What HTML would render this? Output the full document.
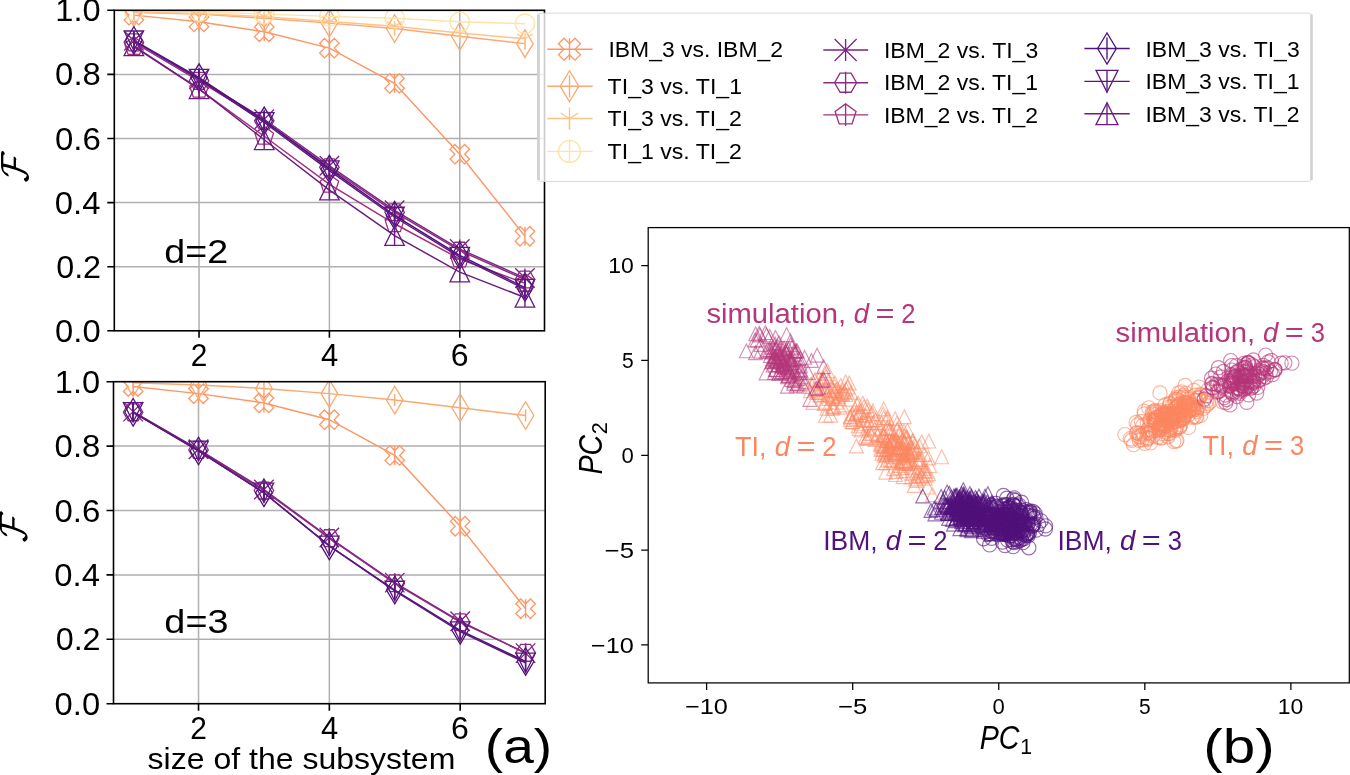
<!DOCTYPE html>
<html><head><meta charset="utf-8"><style>
html,body{margin:0;padding:0;background:#fff;width:1350px;height:775px;overflow:hidden;position:relative}
text{font-family:"Liberation Sans",sans-serif}
</style></head><body>
<svg width="1350" height="775" viewBox="0 0 1350 775" style="position:absolute;left:0;top:0;will-change:transform">
<rect width="1350" height="775" fill="#fff"/>
<g style="font-family:'Liberation Sans',sans-serif">
<path d="M199.04 10.3V330.8M329.4 10.3V330.8M459.76 10.3V330.8M114.3 266.7H544.5M114.3 202.6H544.5M114.3 138.5H544.5M114.3 74.4H544.5" stroke="#b0b0b0" stroke-width="1.5" fill="none"/>
<clipPath id="clipT"><rect x="114.3" y="10.3" width="430.2" height="320.5"/></clipPath>
<g clip-path="url(#clipT)" fill="none">
<g stroke="#fd9766">
<path d="M133.85 15.11L199.04 21.84L264.22 31.77L329.4 48.12L394.58 83.37L459.76 154.2L524.95 236.25" stroke-width="1.45"/>
<path d="M133.85 5.61v19M199.04 12.34v19M264.22 22.27v19M329.4 38.62v19M394.58 73.87v19M459.76 144.7v19M524.95 226.75v19" stroke-width="1.4"/>
<path transform="translate(133.85 15.11)" d="M-4.88 9.75L0 4.88L4.88 9.75L9.75 4.88L4.88 0L9.75 -4.88L4.88 -9.75L0 -4.88L-4.88 -9.75L-9.75 -4.88L-4.88 0L-9.75 4.88Z" stroke-width="1.3"/>
<path transform="translate(199.04 21.84)" d="M-4.88 9.75L0 4.88L4.88 9.75L9.75 4.88L4.88 0L9.75 -4.88L4.88 -9.75L0 -4.88L-4.88 -9.75L-9.75 -4.88L-4.88 0L-9.75 4.88Z" stroke-width="1.3"/>
<path transform="translate(264.22 31.77)" d="M-4.88 9.75L0 4.88L4.88 9.75L9.75 4.88L4.88 0L9.75 -4.88L4.88 -9.75L0 -4.88L-4.88 -9.75L-9.75 -4.88L-4.88 0L-9.75 4.88Z" stroke-width="1.3"/>
<path transform="translate(329.4 48.12)" d="M-4.88 9.75L0 4.88L4.88 9.75L9.75 4.88L4.88 0L9.75 -4.88L4.88 -9.75L0 -4.88L-4.88 -9.75L-9.75 -4.88L-4.88 0L-9.75 4.88Z" stroke-width="1.3"/>
<path transform="translate(394.58 83.37)" d="M-4.88 9.75L0 4.88L4.88 9.75L9.75 4.88L4.88 0L9.75 -4.88L4.88 -9.75L0 -4.88L-4.88 -9.75L-9.75 -4.88L-4.88 0L-9.75 4.88Z" stroke-width="1.3"/>
<path transform="translate(459.76 154.2)" d="M-4.88 9.75L0 4.88L4.88 9.75L9.75 4.88L4.88 0L9.75 -4.88L4.88 -9.75L0 -4.88L-4.88 -9.75L-9.75 -4.88L-4.88 0L-9.75 4.88Z" stroke-width="1.3"/>
<path transform="translate(524.95 236.25)" d="M-4.88 9.75L0 4.88L4.88 9.75L9.75 4.88L4.88 0L9.75 -4.88L4.88 -9.75L0 -4.88L-4.88 -9.75L-9.75 -4.88L-4.88 0L-9.75 4.88Z" stroke-width="1.3"/>
</g>
<g stroke="#fda870">
<path d="M133.85 12.54L199.04 14.15L264.22 18.31L329.4 23.12L394.58 28.57L459.76 36.26L524.95 43.63" stroke-width="1.45"/>
<path d="M133.85 6.54v12M199.04 8.15v12M264.22 12.31v12M329.4 17.12v12M394.58 22.57v12M459.76 30.26v12M524.95 37.63v12" stroke-width="1.4"/>
<path transform="translate(133.85 12.54)" d="M-0 13.79L8.27 0L0 -13.79L-8.27 -0Z" stroke-width="1.3"/>
<path transform="translate(199.04 14.15)" d="M-0 13.79L8.27 0L0 -13.79L-8.27 -0Z" stroke-width="1.3"/>
<path transform="translate(264.22 18.31)" d="M-0 13.79L8.27 0L0 -13.79L-8.27 -0Z" stroke-width="1.3"/>
<path transform="translate(329.4 23.12)" d="M-0 13.79L8.27 0L0 -13.79L-8.27 -0Z" stroke-width="1.3"/>
<path transform="translate(394.58 28.57)" d="M-0 13.79L8.27 0L0 -13.79L-8.27 -0Z" stroke-width="1.3"/>
<path transform="translate(459.76 36.26)" d="M-0 13.79L8.27 0L0 -13.79L-8.27 -0Z" stroke-width="1.3"/>
<path transform="translate(524.95 43.63)" d="M-0 13.79L8.27 0L0 -13.79L-8.27 -0Z" stroke-width="1.3"/>
</g>
<g stroke="#fec389">
<path d="M133.85 11.9L199.04 13.5L264.22 16.71L329.4 21.52L394.58 26.33L459.76 33.06L524.95 38.82" stroke-width="1.45"/>
<path d="M133.85 6.9v10M199.04 8.5v10M264.22 11.71v10M329.4 16.52v10M394.58 21.33v10M459.76 28.06v10M524.95 33.82v10" stroke-width="1.4"/>
<path transform="translate(133.85 11.9)" d="M0 0L0 9.75M0 0L7.8 -4.88M0 0L-7.8 -4.88" stroke-width="1.3"/>
<path transform="translate(199.04 13.5)" d="M0 0L0 9.75M0 0L7.8 -4.88M0 0L-7.8 -4.88" stroke-width="1.3"/>
<path transform="translate(264.22 16.71)" d="M0 0L0 9.75M0 0L7.8 -4.88M0 0L-7.8 -4.88" stroke-width="1.3"/>
<path transform="translate(329.4 21.52)" d="M0 0L0 9.75M0 0L7.8 -4.88M0 0L-7.8 -4.88" stroke-width="1.3"/>
<path transform="translate(394.58 26.33)" d="M0 0L0 9.75M0 0L7.8 -4.88M0 0L-7.8 -4.88" stroke-width="1.3"/>
<path transform="translate(459.76 33.06)" d="M0 0L0 9.75M0 0L7.8 -4.88M0 0L-7.8 -4.88" stroke-width="1.3"/>
<path transform="translate(524.95 38.82)" d="M0 0L0 9.75M0 0L7.8 -4.88M0 0L-7.8 -4.88" stroke-width="1.3"/>
</g>
<g stroke="#fee3a5">
<path d="M133.85 10.3L199.04 11.58L264.22 14.15L329.4 16.39L394.58 18.31L459.76 21.84L524.95 23.76" stroke-width="1.45"/>
<path transform="translate(133.85 10.3)" d="M0 9.75C2.59 9.75 5.07 8.72 6.89 6.89C8.72 5.07 9.75 2.59 9.75 0C9.75 -2.59 8.72 -5.07 6.89 -6.89C5.07 -8.72 2.59 -9.75 0 -9.75C-2.59 -9.75 -5.07 -8.72 -6.89 -6.89C-8.72 -5.07 -9.75 -2.59 -9.75 0C-9.75 2.59 -8.72 5.07 -6.89 6.89C-5.07 8.72 -2.59 9.75 0 9.75Z" stroke-width="1.3"/>
<path transform="translate(199.04 11.58)" d="M0 9.75C2.59 9.75 5.07 8.72 6.89 6.89C8.72 5.07 9.75 2.59 9.75 0C9.75 -2.59 8.72 -5.07 6.89 -6.89C5.07 -8.72 2.59 -9.75 0 -9.75C-2.59 -9.75 -5.07 -8.72 -6.89 -6.89C-8.72 -5.07 -9.75 -2.59 -9.75 0C-9.75 2.59 -8.72 5.07 -6.89 6.89C-5.07 8.72 -2.59 9.75 0 9.75Z" stroke-width="1.3"/>
<path transform="translate(264.22 14.15)" d="M0 9.75C2.59 9.75 5.07 8.72 6.89 6.89C8.72 5.07 9.75 2.59 9.75 0C9.75 -2.59 8.72 -5.07 6.89 -6.89C5.07 -8.72 2.59 -9.75 0 -9.75C-2.59 -9.75 -5.07 -8.72 -6.89 -6.89C-8.72 -5.07 -9.75 -2.59 -9.75 0C-9.75 2.59 -8.72 5.07 -6.89 6.89C-5.07 8.72 -2.59 9.75 0 9.75Z" stroke-width="1.3"/>
<path transform="translate(329.4 16.39)" d="M0 9.75C2.59 9.75 5.07 8.72 6.89 6.89C8.72 5.07 9.75 2.59 9.75 0C9.75 -2.59 8.72 -5.07 6.89 -6.89C5.07 -8.72 2.59 -9.75 0 -9.75C-2.59 -9.75 -5.07 -8.72 -6.89 -6.89C-8.72 -5.07 -9.75 -2.59 -9.75 0C-9.75 2.59 -8.72 5.07 -6.89 6.89C-5.07 8.72 -2.59 9.75 0 9.75Z" stroke-width="1.3"/>
<path transform="translate(394.58 18.31)" d="M0 9.75C2.59 9.75 5.07 8.72 6.89 6.89C8.72 5.07 9.75 2.59 9.75 0C9.75 -2.59 8.72 -5.07 6.89 -6.89C5.07 -8.72 2.59 -9.75 0 -9.75C-2.59 -9.75 -5.07 -8.72 -6.89 -6.89C-8.72 -5.07 -9.75 -2.59 -9.75 0C-9.75 2.59 -8.72 5.07 -6.89 6.89C-5.07 8.72 -2.59 9.75 0 9.75Z" stroke-width="1.3"/>
<path transform="translate(459.76 21.84)" d="M0 9.75C2.59 9.75 5.07 8.72 6.89 6.89C8.72 5.07 9.75 2.59 9.75 0C9.75 -2.59 8.72 -5.07 6.89 -6.89C5.07 -8.72 2.59 -9.75 0 -9.75C-2.59 -9.75 -5.07 -8.72 -6.89 -6.89C-8.72 -5.07 -9.75 -2.59 -9.75 0C-9.75 2.59 -8.72 5.07 -6.89 6.89C-5.07 8.72 -2.59 9.75 0 9.75Z" stroke-width="1.3"/>
<path transform="translate(524.95 23.76)" d="M0 9.75C2.59 9.75 5.07 8.72 6.89 6.89C8.72 5.07 9.75 2.59 9.75 0C9.75 -2.59 8.72 -5.07 6.89 -6.89C5.07 -8.72 2.59 -9.75 0 -9.75C-2.59 -9.75 -5.07 -8.72 -6.89 -6.89C-8.72 -5.07 -9.75 -2.59 -9.75 0C-9.75 2.59 -8.72 5.07 -6.89 6.89C-5.07 8.72 -2.59 9.75 0 9.75Z" stroke-width="1.3"/>
</g>
<g stroke="#7b2382">
<path d="M133.85 40.75L199.04 79.21L264.22 119.27L329.4 165.74L394.58 210.29L459.76 249.07L524.95 277.92" stroke-width="1.45"/>
<path d="M133.85 31.25v19M199.04 69.71v19M264.22 109.77v19M329.4 156.24v19M394.58 200.79v19M459.76 239.57v19M524.95 268.42v19" stroke-width="1.4"/>
<path transform="translate(133.85 40.75)" d="M-9.75 9.75L9.75 -9.75M-9.75 -9.75L9.75 9.75" stroke-width="1.3"/>
<path transform="translate(199.04 79.21)" d="M-9.75 9.75L9.75 -9.75M-9.75 -9.75L9.75 9.75" stroke-width="1.3"/>
<path transform="translate(264.22 119.27)" d="M-9.75 9.75L9.75 -9.75M-9.75 -9.75L9.75 9.75" stroke-width="1.3"/>
<path transform="translate(329.4 165.74)" d="M-9.75 9.75L9.75 -9.75M-9.75 -9.75L9.75 9.75" stroke-width="1.3"/>
<path transform="translate(394.58 210.29)" d="M-9.75 9.75L9.75 -9.75M-9.75 -9.75L9.75 9.75" stroke-width="1.3"/>
<path transform="translate(459.76 249.07)" d="M-9.75 9.75L9.75 -9.75M-9.75 -9.75L9.75 9.75" stroke-width="1.3"/>
<path transform="translate(524.95 277.92)" d="M-9.75 9.75L9.75 -9.75M-9.75 -9.75L9.75 9.75" stroke-width="1.3"/>
</g>
<g stroke="#8e2a81">
<path d="M133.85 42.35L199.04 80.81L264.22 120.87L329.4 167.34L394.58 212.22L459.76 250.68L524.95 279.52" stroke-width="1.45"/>
<path d="M133.85 32.85v19M199.04 71.31v19M264.22 111.37v19M329.4 157.84v19M394.58 202.72v19M459.76 241.18v19M524.95 270.02v19" stroke-width="1.4"/>
<path transform="translate(133.85 42.35)" d="M-4.87 -8.44L-9.75 -0L-4.88 8.44L4.87 8.44L9.75 0L4.88 -8.44Z" stroke-width="1.3"/>
<path transform="translate(199.04 80.81)" d="M-4.87 -8.44L-9.75 -0L-4.88 8.44L4.87 8.44L9.75 0L4.88 -8.44Z" stroke-width="1.3"/>
<path transform="translate(264.22 120.87)" d="M-4.87 -8.44L-9.75 -0L-4.88 8.44L4.87 8.44L9.75 0L4.88 -8.44Z" stroke-width="1.3"/>
<path transform="translate(329.4 167.34)" d="M-4.87 -8.44L-9.75 -0L-4.88 8.44L4.87 8.44L9.75 0L4.88 -8.44Z" stroke-width="1.3"/>
<path transform="translate(394.58 212.22)" d="M-4.87 -8.44L-9.75 -0L-4.88 8.44L4.87 8.44L9.75 0L4.88 -8.44Z" stroke-width="1.3"/>
<path transform="translate(459.76 250.68)" d="M-4.87 -8.44L-9.75 -0L-4.88 8.44L4.87 8.44L9.75 0L4.88 -8.44Z" stroke-width="1.3"/>
<path transform="translate(524.95 279.52)" d="M-4.87 -8.44L-9.75 -0L-4.88 8.44L4.87 8.44L9.75 0L4.88 -8.44Z" stroke-width="1.3"/>
</g>
<g stroke="#a3307e">
<path d="M133.85 46.52L199.04 89.14L264.22 136.26L329.4 184.33L394.58 223.75L459.76 259.01L524.95 283.37" stroke-width="1.45"/>
<path d="M133.85 37.02v19M199.04 79.64v19M264.22 126.76v19M329.4 174.83v19M394.58 214.25v19M459.76 249.51v19M524.95 273.87v19" stroke-width="1.4"/>
<path transform="translate(133.85 46.52)" d="M0 -9.75L-9.27 -3.01L-5.73 7.89L5.73 7.89L9.27 -3.01Z" stroke-width="1.3"/>
<path transform="translate(199.04 89.14)" d="M0 -9.75L-9.27 -3.01L-5.73 7.89L5.73 7.89L9.27 -3.01Z" stroke-width="1.3"/>
<path transform="translate(264.22 136.26)" d="M0 -9.75L-9.27 -3.01L-5.73 7.89L5.73 7.89L9.27 -3.01Z" stroke-width="1.3"/>
<path transform="translate(329.4 184.33)" d="M0 -9.75L-9.27 -3.01L-5.73 7.89L5.73 7.89L9.27 -3.01Z" stroke-width="1.3"/>
<path transform="translate(394.58 223.75)" d="M0 -9.75L-9.27 -3.01L-5.73 7.89L5.73 7.89L9.27 -3.01Z" stroke-width="1.3"/>
<path transform="translate(459.76 259.01)" d="M0 -9.75L-9.27 -3.01L-5.73 7.89L5.73 7.89L9.27 -3.01Z" stroke-width="1.3"/>
<path transform="translate(524.95 283.37)" d="M0 -9.75L-9.27 -3.01L-5.73 7.89L5.73 7.89L9.27 -3.01Z" stroke-width="1.3"/>
</g>
<g stroke="#4f127b">
<path d="M133.85 40.43L199.04 77.6L264.22 120.87L329.4 168.95L394.58 215.42L459.76 255.48L524.95 287.53" stroke-width="1.45"/>
<path d="M133.85 30.93v19M199.04 68.1v19M264.22 111.37v19M329.4 159.45v19M394.58 205.92v19M459.76 245.98v19M524.95 278.03v19" stroke-width="1.4"/>
<path transform="translate(133.85 40.43)" d="M-0 13.79L8.27 0L0 -13.79L-8.27 -0Z" stroke-width="1.3"/>
<path transform="translate(199.04 77.6)" d="M-0 13.79L8.27 0L0 -13.79L-8.27 -0Z" stroke-width="1.3"/>
<path transform="translate(264.22 120.87)" d="M-0 13.79L8.27 0L0 -13.79L-8.27 -0Z" stroke-width="1.3"/>
<path transform="translate(329.4 168.95)" d="M-0 13.79L8.27 0L0 -13.79L-8.27 -0Z" stroke-width="1.3"/>
<path transform="translate(394.58 215.42)" d="M-0 13.79L8.27 0L0 -13.79L-8.27 -0Z" stroke-width="1.3"/>
<path transform="translate(459.76 255.48)" d="M-0 13.79L8.27 0L0 -13.79L-8.27 -0Z" stroke-width="1.3"/>
<path transform="translate(524.95 287.53)" d="M-0 13.79L8.27 0L0 -13.79L-8.27 -0Z" stroke-width="1.3"/>
</g>
<g stroke="#5c167f">
<path d="M133.85 40.75L199.04 79.21L264.22 122.47L329.4 170.55L394.58 217.02L459.76 257.09L524.95 289.13" stroke-width="1.45"/>
<path d="M133.85 31.25v19M199.04 69.71v19M264.22 112.97v19M329.4 161.05v19M394.58 207.52v19M459.76 247.59v19M524.95 279.63v19" stroke-width="1.4"/>
<path transform="translate(133.85 40.75)" d="M-0 9.75L9.75 -9.75L-9.75 -9.75Z" stroke-width="1.3"/>
<path transform="translate(199.04 79.21)" d="M-0 9.75L9.75 -9.75L-9.75 -9.75Z" stroke-width="1.3"/>
<path transform="translate(264.22 122.47)" d="M-0 9.75L9.75 -9.75L-9.75 -9.75Z" stroke-width="1.3"/>
<path transform="translate(329.4 170.55)" d="M-0 9.75L9.75 -9.75L-9.75 -9.75Z" stroke-width="1.3"/>
<path transform="translate(394.58 217.02)" d="M-0 9.75L9.75 -9.75L-9.75 -9.75Z" stroke-width="1.3"/>
<path transform="translate(459.76 257.09)" d="M-0 9.75L9.75 -9.75L-9.75 -9.75Z" stroke-width="1.3"/>
<path transform="translate(524.95 289.13)" d="M-0 9.75L9.75 -9.75L-9.75 -9.75Z" stroke-width="1.3"/>
</g>
<g stroke="#6a1c81">
<path d="M133.85 45.88L199.04 88.82L264.22 139.78L329.4 190.1L394.58 235.61L459.76 272.15L524.95 297.47" stroke-width="1.45"/>
<path d="M133.85 36.38v19M199.04 79.32v19M264.22 130.28v19M329.4 180.6v19M394.58 226.11v19M459.76 262.65v19M524.95 287.97v19" stroke-width="1.4"/>
<path transform="translate(133.85 45.88)" d="M0 -9.75L-9.75 9.75L9.75 9.75Z" stroke-width="1.3"/>
<path transform="translate(199.04 88.82)" d="M0 -9.75L-9.75 9.75L9.75 9.75Z" stroke-width="1.3"/>
<path transform="translate(264.22 139.78)" d="M0 -9.75L-9.75 9.75L9.75 9.75Z" stroke-width="1.3"/>
<path transform="translate(329.4 190.1)" d="M0 -9.75L-9.75 9.75L9.75 9.75Z" stroke-width="1.3"/>
<path transform="translate(394.58 235.61)" d="M0 -9.75L-9.75 9.75L9.75 9.75Z" stroke-width="1.3"/>
<path transform="translate(459.76 272.15)" d="M0 -9.75L-9.75 9.75L9.75 9.75Z" stroke-width="1.3"/>
<path transform="translate(524.95 297.47)" d="M0 -9.75L-9.75 9.75L9.75 9.75Z" stroke-width="1.3"/>
</g>
</g>
<rect x="114.3" y="10.3" width="430.2" height="320.5" fill="none" stroke="#000" stroke-width="1.6"/>
<path d="M114.3 330.8h-7M114.3 266.7h-7M114.3 202.6h-7M114.3 138.5h-7M114.3 74.4h-7M114.3 10.3h-7M199.04 330.8v7M329.4 330.8v7M459.76 330.8v7" stroke="#000" stroke-width="1.6"/>
<text x="55.12" y="341.8" style="font-size:31.26px;fill:#000" textLength="45.53" lengthAdjust="spacingAndGlyphs">0.0</text>
<text x="56.17" y="277.7" style="font-size:31.26px;fill:#000" textLength="44.95" lengthAdjust="spacingAndGlyphs">0.2</text>
<text x="54.82" y="213.6" style="font-size:31.26px;fill:#000" textLength="45.67" lengthAdjust="spacingAndGlyphs">0.4</text>
<text x="54.96" y="149.5" style="font-size:31.26px;fill:#000" textLength="45.86" lengthAdjust="spacingAndGlyphs">0.6</text>
<text x="55.11" y="85.4" style="font-size:31.26px;fill:#000" textLength="45.71" lengthAdjust="spacingAndGlyphs">0.8</text>
<text x="55.31" y="21.3" style="font-size:31.26px;fill:#000" textLength="45.33" lengthAdjust="spacingAndGlyphs">1.0</text>
<text x="190.76" y="366.31" style="font-size:31.26px;fill:#000" textLength="16.59" lengthAdjust="spacingAndGlyphs">2</text>
<text x="320.96" y="366.31" style="font-size:31.26px;fill:#000" textLength="17.22" lengthAdjust="spacingAndGlyphs">4</text>
<text x="450.71" y="366.31" style="font-size:31.26px;fill:#000" textLength="17.82" lengthAdjust="spacingAndGlyphs">6</text>
<path d="M198.53 381.7V703.7M329.35 381.7V703.7M460.17 381.7V703.7M113.5 639.3H545.2M113.5 574.9H545.2M113.5 510.5H545.2M113.5 446.1H545.2" stroke="#b0b0b0" stroke-width="1.5" fill="none"/>
<clipPath id="clipB"><rect x="113.5" y="381.7" width="431.7" height="322"/></clipPath>
<g clip-path="url(#clipB)" fill="none">
<g stroke="#fd9766">
<path d="M133.12 386.53L198.53 393.61L263.94 402.95L329.35 419.7L394.76 455.44L460.17 526.28L525.58 608.71" stroke-width="1.45"/>
<path d="M133.12 377.03v19M198.53 384.11v19M263.94 393.45v19M329.35 410.2v19M394.76 445.94v19M460.17 516.78v19M525.58 599.21v19" stroke-width="1.4"/>
<path transform="translate(133.12 386.53)" d="M-4.88 9.75L0 4.88L4.88 9.75L9.75 4.88L4.88 0L9.75 -4.88L4.88 -9.75L0 -4.88L-4.88 -9.75L-9.75 -4.88L-4.88 0L-9.75 4.88Z" stroke-width="1.3"/>
<path transform="translate(198.53 393.61)" d="M-4.88 9.75L0 4.88L4.88 9.75L9.75 4.88L4.88 0L9.75 -4.88L4.88 -9.75L0 -4.88L-4.88 -9.75L-9.75 -4.88L-4.88 0L-9.75 4.88Z" stroke-width="1.3"/>
<path transform="translate(263.94 402.95)" d="M-4.88 9.75L0 4.88L4.88 9.75L9.75 4.88L4.88 0L9.75 -4.88L4.88 -9.75L0 -4.88L-4.88 -9.75L-9.75 -4.88L-4.88 0L-9.75 4.88Z" stroke-width="1.3"/>
<path transform="translate(329.35 419.7)" d="M-4.88 9.75L0 4.88L4.88 9.75L9.75 4.88L4.88 0L9.75 -4.88L4.88 -9.75L0 -4.88L-4.88 -9.75L-9.75 -4.88L-4.88 0L-9.75 4.88Z" stroke-width="1.3"/>
<path transform="translate(394.76 455.44)" d="M-4.88 9.75L0 4.88L4.88 9.75L9.75 4.88L4.88 0L9.75 -4.88L4.88 -9.75L0 -4.88L-4.88 -9.75L-9.75 -4.88L-4.88 0L-9.75 4.88Z" stroke-width="1.3"/>
<path transform="translate(460.17 526.28)" d="M-4.88 9.75L0 4.88L4.88 9.75L9.75 4.88L4.88 0L9.75 -4.88L4.88 -9.75L0 -4.88L-4.88 -9.75L-9.75 -4.88L-4.88 0L-9.75 4.88Z" stroke-width="1.3"/>
<path transform="translate(525.58 608.71)" d="M-4.88 9.75L0 4.88L4.88 9.75L9.75 4.88L4.88 0L9.75 -4.88L4.88 -9.75L0 -4.88L-4.88 -9.75L-9.75 -4.88L-4.88 0L-9.75 4.88Z" stroke-width="1.3"/>
</g>
<g stroke="#fda870">
<path d="M133.12 382.67L198.53 384.92L263.94 388.46L329.35 393.61L394.76 400.05L460.17 407.78L525.58 415.51" stroke-width="1.45"/>
<path d="M133.12 376.67v12M198.53 378.92v12M263.94 382.46v12M329.35 387.61v12M394.76 394.05v12M460.17 401.78v12M525.58 409.51v12" stroke-width="1.4"/>
<path transform="translate(133.12 382.67)" d="M-0 13.79L8.27 0L0 -13.79L-8.27 -0Z" stroke-width="1.3"/>
<path transform="translate(198.53 384.92)" d="M-0 13.79L8.27 0L0 -13.79L-8.27 -0Z" stroke-width="1.3"/>
<path transform="translate(263.94 388.46)" d="M-0 13.79L8.27 0L0 -13.79L-8.27 -0Z" stroke-width="1.3"/>
<path transform="translate(329.35 393.61)" d="M-0 13.79L8.27 0L0 -13.79L-8.27 -0Z" stroke-width="1.3"/>
<path transform="translate(394.76 400.05)" d="M-0 13.79L8.27 0L0 -13.79L-8.27 -0Z" stroke-width="1.3"/>
<path transform="translate(460.17 407.78)" d="M-0 13.79L8.27 0L0 -13.79L-8.27 -0Z" stroke-width="1.3"/>
<path transform="translate(525.58 415.51)" d="M-0 13.79L8.27 0L0 -13.79L-8.27 -0Z" stroke-width="1.3"/>
</g>
<g stroke="#7b2382">
<path d="M133.12 411.65L198.53 449.32L263.94 489.57L329.35 537.55L394.76 582.63L460.17 621.27L525.58 653.15" stroke-width="1.45"/>
<path d="M133.12 402.15v19M198.53 439.82v19M263.94 480.07v19M329.35 528.05v19M394.76 573.13v19M460.17 611.77v19M525.58 643.65v19" stroke-width="1.4"/>
<path transform="translate(133.12 411.65)" d="M-9.75 9.75L9.75 -9.75M-9.75 -9.75L9.75 9.75" stroke-width="1.3"/>
<path transform="translate(198.53 449.32)" d="M-9.75 9.75L9.75 -9.75M-9.75 -9.75L9.75 9.75" stroke-width="1.3"/>
<path transform="translate(263.94 489.57)" d="M-9.75 9.75L9.75 -9.75M-9.75 -9.75L9.75 9.75" stroke-width="1.3"/>
<path transform="translate(329.35 537.55)" d="M-9.75 9.75L9.75 -9.75M-9.75 -9.75L9.75 9.75" stroke-width="1.3"/>
<path transform="translate(394.76 582.63)" d="M-9.75 9.75L9.75 -9.75M-9.75 -9.75L9.75 9.75" stroke-width="1.3"/>
<path transform="translate(460.17 621.27)" d="M-9.75 9.75L9.75 -9.75M-9.75 -9.75L9.75 9.75" stroke-width="1.3"/>
<path transform="translate(525.58 653.15)" d="M-9.75 9.75L9.75 -9.75M-9.75 -9.75L9.75 9.75" stroke-width="1.3"/>
</g>
<g stroke="#8e2a81">
<path d="M133.12 412.29L198.53 449.96L263.94 490.54L329.35 538.19L394.76 583.27L460.17 622.23L525.58 652.82" stroke-width="1.45"/>
<path d="M133.12 402.79v19M198.53 440.46v19M263.94 481.04v19M329.35 528.69v19M394.76 573.77v19M460.17 612.73v19M525.58 643.32v19" stroke-width="1.4"/>
<path transform="translate(133.12 412.29)" d="M-4.87 -8.44L-9.75 -0L-4.88 8.44L4.87 8.44L9.75 0L4.88 -8.44Z" stroke-width="1.3"/>
<path transform="translate(198.53 449.96)" d="M-4.87 -8.44L-9.75 -0L-4.88 8.44L4.87 8.44L9.75 0L4.88 -8.44Z" stroke-width="1.3"/>
<path transform="translate(263.94 490.54)" d="M-4.87 -8.44L-9.75 -0L-4.88 8.44L4.87 8.44L9.75 0L4.88 -8.44Z" stroke-width="1.3"/>
<path transform="translate(329.35 538.19)" d="M-4.87 -8.44L-9.75 -0L-4.88 8.44L4.87 8.44L9.75 0L4.88 -8.44Z" stroke-width="1.3"/>
<path transform="translate(394.76 583.27)" d="M-4.87 -8.44L-9.75 -0L-4.88 8.44L4.87 8.44L9.75 0L4.88 -8.44Z" stroke-width="1.3"/>
<path transform="translate(460.17 622.23)" d="M-4.87 -8.44L-9.75 -0L-4.88 8.44L4.87 8.44L9.75 0L4.88 -8.44Z" stroke-width="1.3"/>
<path transform="translate(525.58 652.82)" d="M-4.87 -8.44L-9.75 -0L-4.88 8.44L4.87 8.44L9.75 0L4.88 -8.44Z" stroke-width="1.3"/>
</g>
<g stroke="#4f127b">
<path d="M133.12 412.29L198.53 450.93L263.94 492.79L329.35 545.92L394.76 590.03L460.17 630.28L525.58 661.52" stroke-width="1.45"/>
<path d="M133.12 402.79v19M198.53 441.43v19M263.94 483.29v19M329.35 536.42v19M394.76 580.53v19M460.17 620.78v19M525.58 652.02v19" stroke-width="1.4"/>
<path transform="translate(133.12 412.29)" d="M-0 13.79L8.27 0L0 -13.79L-8.27 -0Z" stroke-width="1.3"/>
<path transform="translate(198.53 450.93)" d="M-0 13.79L8.27 0L0 -13.79L-8.27 -0Z" stroke-width="1.3"/>
<path transform="translate(263.94 492.79)" d="M-0 13.79L8.27 0L0 -13.79L-8.27 -0Z" stroke-width="1.3"/>
<path transform="translate(329.35 545.92)" d="M-0 13.79L8.27 0L0 -13.79L-8.27 -0Z" stroke-width="1.3"/>
<path transform="translate(394.76 590.03)" d="M-0 13.79L8.27 0L0 -13.79L-8.27 -0Z" stroke-width="1.3"/>
<path transform="translate(460.17 630.28)" d="M-0 13.79L8.27 0L0 -13.79L-8.27 -0Z" stroke-width="1.3"/>
<path transform="translate(525.58 661.52)" d="M-0 13.79L8.27 0L0 -13.79L-8.27 -0Z" stroke-width="1.3"/>
</g>
<g stroke="#5c167f">
<path d="M133.12 412.29L198.53 450.93L263.94 492.79L329.35 545.92L394.76 591L460.17 631.57L525.58 662.81" stroke-width="1.45"/>
<path d="M133.12 402.79v19M198.53 441.43v19M263.94 483.29v19M329.35 536.42v19M394.76 581.5v19M460.17 622.07v19M525.58 653.31v19" stroke-width="1.4"/>
<path transform="translate(133.12 412.29)" d="M-0 9.75L9.75 -9.75L-9.75 -9.75Z" stroke-width="1.3"/>
<path transform="translate(198.53 450.93)" d="M-0 9.75L9.75 -9.75L-9.75 -9.75Z" stroke-width="1.3"/>
<path transform="translate(263.94 492.79)" d="M-0 9.75L9.75 -9.75L-9.75 -9.75Z" stroke-width="1.3"/>
<path transform="translate(329.35 545.92)" d="M-0 9.75L9.75 -9.75L-9.75 -9.75Z" stroke-width="1.3"/>
<path transform="translate(394.76 591)" d="M-0 9.75L9.75 -9.75L-9.75 -9.75Z" stroke-width="1.3"/>
<path transform="translate(460.17 631.57)" d="M-0 9.75L9.75 -9.75L-9.75 -9.75Z" stroke-width="1.3"/>
<path transform="translate(525.58 662.81)" d="M-0 9.75L9.75 -9.75L-9.75 -9.75Z" stroke-width="1.3"/>
</g>
</g>
<rect x="113.5" y="381.7" width="431.7" height="322" fill="none" stroke="#000" stroke-width="1.6"/>
<path d="M113.5 703.7h-7M113.5 639.3h-7M113.5 574.9h-7M113.5 510.5h-7M113.5 446.1h-7M113.5 381.7h-7M198.53 703.7v7M329.35 703.7v7M460.17 703.7v7" stroke="#000" stroke-width="1.6"/>
<text x="54.62" y="714.7" style="font-size:31.26px;fill:#000" textLength="45.53" lengthAdjust="spacingAndGlyphs">0.0</text>
<text x="55.67" y="650.3" style="font-size:31.26px;fill:#000" textLength="44.95" lengthAdjust="spacingAndGlyphs">0.2</text>
<text x="54.32" y="585.9" style="font-size:31.26px;fill:#000" textLength="45.67" lengthAdjust="spacingAndGlyphs">0.4</text>
<text x="54.46" y="521.5" style="font-size:31.26px;fill:#000" textLength="45.86" lengthAdjust="spacingAndGlyphs">0.6</text>
<text x="54.61" y="457.1" style="font-size:31.26px;fill:#000" textLength="45.71" lengthAdjust="spacingAndGlyphs">0.8</text>
<text x="54.81" y="392.7" style="font-size:31.26px;fill:#000" textLength="45.33" lengthAdjust="spacingAndGlyphs">1.0</text>
<text x="190.26" y="739.21" style="font-size:31.26px;fill:#000" textLength="16.59" lengthAdjust="spacingAndGlyphs">2</text>
<text x="320.91" y="739.21" style="font-size:31.26px;fill:#000" textLength="17.22" lengthAdjust="spacingAndGlyphs">4</text>
<text x="451.12" y="739.21" style="font-size:31.26px;fill:#000" textLength="17.82" lengthAdjust="spacingAndGlyphs">6</text>
<text x="164.39" y="263" style="font-size:32.74px;fill:#000" textLength="63.85" lengthAdjust="spacingAndGlyphs">d=2</text>
<text x="164.39" y="632.6" style="font-size:32.74px;fill:#000" textLength="64.1" lengthAdjust="spacingAndGlyphs">d=3</text>
<text x="147.64" y="769.3" style="font-size:29.99px;fill:#000" textLength="307.7" lengthAdjust="spacingAndGlyphs">size of the subsystem</text>
<text x="484.89" y="763" style="font-size:47.3px;fill:#000" textLength="67.34" lengthAdjust="spacingAndGlyphs">(a)</text>
<path d="M25.94 181.85Q25.26 181.85 24.6 180.78Q23.94 179.7 23.86 178.97L23.86 178.74Q23.94 178.61 24.77 178.11Q25.6 177.62 26.14 176.91Q26.69 176.19 26.69 174.9Q26.34 174.63 26.02 174.45Q20.83 171.72 15.43 169.81Q12.49 168.77 9.35 167.94Q6.21 167.12 3.31 166.66L3.31 168.25Q3.31 172.03 6.95 173.04Q7.64 173.41 8.16 174.25Q8.67 175.1 8.75 175.89L8.75 176.12Q8.58 176.38 8.35 176.38Q6.27 175.8 4.59 174.11Q2.91 172.41 1.96 170.16Q1 167.92 1 165.82L1 154.69Q1 151 2.49 151Q3.35 151 4.05 152Q4.74 153 4.84 153.97L4.84 154.15Q4.68 154.43 4.61 154.43Q4.49 154.41 4.36 154.4Q4.22 154.37 4.17 154.37Q3.31 154.37 3.31 157.53L3.31 163.54Q8.79 164.61 13.64 166.32L13.64 156.73Q13.77 156.47 13.98 156.47Q14.91 156.71 15.57 157.6Q16.23 158.49 16.32 159.48L16.32 159.7Q16.17 159.98 16.02 159.98L15.94 159.98L15.94 167.16Q20.33 168.83 24.68 171.11Q26.42 172.06 27.71 173.8Q29 175.54 29 177.29L29 177.49Q29 178.97 28.19 180.16Q27.38 181.35 25.94 181.85Z" fill="#000"/>
<path d="M24.53 541.76Q23.84 541.76 23.18 540.69Q22.52 539.62 22.45 538.91L22.45 538.67Q22.52 538.54 23.35 538.05Q24.19 537.57 24.73 536.86Q25.28 536.15 25.28 534.87Q24.93 534.61 24.61 534.43Q19.4 531.72 13.98 529.83Q11.03 528.8 7.88 527.98Q4.73 527.16 1.82 526.71L1.82 528.29Q1.82 532.03 5.48 533.03Q6.17 533.4 6.68 534.23Q7.2 535.07 7.28 535.86L7.28 536.08Q7.11 536.34 6.87 536.34Q4.79 535.77 3.1 534.09Q1.42 532.4 0.46 530.18Q-0.5 527.96 -0.5 525.88L-0.5 514.86Q-0.5 511.2 1 511.2Q1.85 511.2 2.56 512.19Q3.26 513.18 3.35 514.14L3.35 514.32Q3.2 514.6 3.12 514.6Q3.01 514.58 2.87 514.56Q2.74 514.54 2.68 514.54Q1.82 514.54 1.82 517.67L1.82 523.62Q7.31 524.68 12.18 526.38L12.18 516.87Q12.32 516.62 12.52 516.62Q13.46 516.86 14.12 517.74Q14.78 518.62 14.88 519.6L14.88 519.81Q14.72 520.09 14.57 520.09L14.5 520.09L14.5 527.21Q18.9 528.86 23.27 531.12Q25.01 532.06 26.31 533.79Q27.6 535.51 27.6 537.24L27.6 537.44Q27.6 538.91 26.78 540.08Q25.97 541.26 24.53 541.76Z" fill="#000"/>
<rect x="537.5" y="13.2" width="774" height="168.2" rx="3" fill="#fff" fill-opacity="0.8" stroke="#d9d9d9" stroke-width="1"/>
<path d="M538.6 14.6V180M1311.5 14.6V180" stroke="#d2d2d2" stroke-width="2.6"/>
<g stroke="#fd9766" fill="none"><path d="M547.3 49.2H592.6M569.5 38.2v22" stroke-width="1.35"/><path transform="translate(569.5 49.2)" d="M-5.5 11L0 5.5L5.5 11L11 5.5L5.5 0L11 -5.5L5.5 -11L0 -5.5L-5.5 -11L-11 -5.5L-5.5 0L-11 5.5Z" stroke-width="1.3"/></g>
<text x="608.44" y="57.1" style="font-size:22.39px;fill:#000" textLength="174.55" lengthAdjust="spacingAndGlyphs">IBM_3 vs. IBM_2</text>
<g stroke="#fda870" fill="none"><path d="M547.3 86.2H592.6M569.5 75.2v22" stroke-width="1.35"/><path transform="translate(569.5 86.2)" d="M-0 15.56L9.33 0L0 -15.56L-9.33 -0Z" stroke-width="1.3"/></g>
<text x="607.64" y="93.8" style="font-size:22.39px;fill:#000" textLength="134.38" lengthAdjust="spacingAndGlyphs">TI_3 vs. TI_1</text>
<g stroke="#fec389" fill="none"><path d="M547.3 118.5H592.6M569.5 107.5v22" stroke-width="1.35"/><path transform="translate(569.5 118.5)" d="M0 0L0 11M0 0L8.8 -5.5M0 0L-8.8 -5.5" stroke-width="1.3"/></g>
<text x="607.64" y="126.3" style="font-size:22.39px;fill:#000" textLength="134.28" lengthAdjust="spacingAndGlyphs">TI_3 vs. TI_2</text>
<g stroke="#fee3a5" fill="none"><path d="M547.3 151.4H592.6M569.5 140.4v22" stroke-width="1.35"/><path transform="translate(569.5 151.4)" d="M0 11C2.92 11 5.72 9.84 7.78 7.78C9.84 5.72 11 2.92 11 0C11 -2.92 9.84 -5.72 7.78 -7.78C5.72 -9.84 2.92 -11 0 -11C-2.92 -11 -5.72 -9.84 -7.78 -7.78C-9.84 -5.72 -11 -2.92 -11 0C-11 2.92 -9.84 5.72 -7.78 7.78C-5.72 9.84 -2.92 11 0 11Z" stroke-width="1.3"/></g>
<text x="607.64" y="158.8" style="font-size:22.39px;fill:#000" textLength="134.28" lengthAdjust="spacingAndGlyphs">TI_1 vs. TI_2</text>
<g stroke="#7b2382" fill="none"><path d="M823.3 50H868.2M845.6 39v22" stroke-width="1.35"/><path transform="translate(845.6 50)" d="M-11 11L11 -11M-11 -11L11 11" stroke-width="1.3"/></g>
<text x="883.93" y="58.2" style="font-size:22.39px;fill:#000" textLength="154.25" lengthAdjust="spacingAndGlyphs">IBM_2 vs. TI_3</text>
<g stroke="#8e2a81" fill="none"><path d="M823.3 82.7H868.2M845.6 71.7v22" stroke-width="1.35"/><path transform="translate(845.6 82.7)" d="M-5.5 -9.53L-11 -0L-5.5 9.53L5.5 9.53L11 0L5.5 -9.53Z" stroke-width="1.3"/></g>
<text x="883.93" y="90.4" style="font-size:22.39px;fill:#000" textLength="154.14" lengthAdjust="spacingAndGlyphs">IBM_2 vs. TI_1</text>
<g stroke="#a3307e" fill="none"><path d="M823.3 114.9H868.2M845.6 103.9v22" stroke-width="1.35"/><path transform="translate(845.6 114.9)" d="M0 -11L-10.46 -3.4L-6.47 8.9L6.47 8.9L10.46 -3.4Z" stroke-width="1.3"/></g>
<text x="883.93" y="122.7" style="font-size:22.39px;fill:#000" textLength="154.03" lengthAdjust="spacingAndGlyphs">IBM_2 vs. TI_2</text>
<g stroke="#4f127b" fill="none"><path d="M1084.4 48.5H1129.7M1107 37.5v22" stroke-width="1.35"/><path transform="translate(1107 48.5)" d="M-0 15.56L9.33 0L0 -15.56L-9.33 -0Z" stroke-width="1.3"/></g>
<text x="1145.43" y="56.9" style="font-size:22.39px;fill:#000" textLength="154.25" lengthAdjust="spacingAndGlyphs">IBM_3 vs. TI_3</text>
<g stroke="#5c167f" fill="none"><path d="M1084.4 81.3H1129.7M1107 70.3v22" stroke-width="1.35"/><path transform="translate(1107 81.3)" d="M-0 11L11 -11L-11 -11Z" stroke-width="1.3"/></g>
<text x="1145.43" y="89.2" style="font-size:22.39px;fill:#000" textLength="154.14" lengthAdjust="spacingAndGlyphs">IBM_3 vs. TI_1</text>
<g stroke="#6a1c81" fill="none"><path d="M1084.4 113.7H1129.7M1107 102.7v22" stroke-width="1.35"/><path transform="translate(1107 113.7)" d="M0 -11L-11 11L11 11Z" stroke-width="1.3"/></g>
<text x="1145.43" y="121.8" style="font-size:22.39px;fill:#000" textLength="154.03" lengthAdjust="spacingAndGlyphs">IBM_3 vs. TI_2</text>
<defs><path id="tr" d="M0 -6.9L-6.9 6.9L6.9 6.9Z"/><circle id="ci" r="7.1"/></defs>
<clipPath id="clipP"><rect x="648.2" y="227.6" width="701.1" height="455.3"/></clipPath>
<g clip-path="url(#clipP)" fill="none" stroke-width="1.15">
<g stroke="#fb8761" stroke-opacity="0.55">
<use href="#tr" x="859.26" y="428.72"/><use href="#tr" x="838.36" y="398.65"/><use href="#tr" x="830.6" y="415.3"/><use href="#tr" x="842.38" y="390.58"/><use href="#tr" x="842.77" y="394"/><use href="#tr" x="824.76" y="389.8"/><use href="#tr" x="823.2" y="377.68"/><use href="#tr" x="845.89" y="389.09"/><use href="#tr" x="795.14" y="380.17"/><use href="#tr" x="834.08" y="406.72"/><use href="#tr" x="849.27" y="383.02"/><use href="#tr" x="816.59" y="392.41"/><use href="#tr" x="825.56" y="402.28"/><use href="#tr" x="826.17" y="376.49"/><use href="#tr" x="810.37" y="390.71"/><use href="#tr" x="850.93" y="392.32"/><use href="#tr" x="835.34" y="390.68"/><use href="#tr" x="856.71" y="412.5"/><use href="#tr" x="861.13" y="423.83"/><use href="#tr" x="836.63" y="402.17"/><use href="#tr" x="832.66" y="396.83"/><use href="#tr" x="857" y="404.61"/><use href="#tr" x="798.86" y="383.99"/><use href="#tr" x="811.05" y="383.93"/><use href="#tr" x="831.36" y="386.82"/><use href="#tr" x="838.38" y="392.35"/><use href="#tr" x="824.03" y="403.53"/><use href="#tr" x="828.69" y="398.44"/><use href="#tr" x="845.75" y="394.59"/><use href="#tr" x="833.21" y="390.1"/><use href="#tr" x="832.37" y="406.07"/><use href="#tr" x="845.7" y="382"/><use href="#tr" x="828.54" y="380.59"/><use href="#tr" x="816.01" y="388.73"/><use href="#tr" x="824.79" y="373.26"/><use href="#tr" x="827.02" y="408.37"/><use href="#tr" x="834.93" y="383.03"/><use href="#tr" x="862.78" y="403.23"/><use href="#tr" x="840.79" y="385.43"/><use href="#tr" x="855.76" y="414.1"/><use href="#tr" x="819.44" y="378.31"/><use href="#tr" x="837.03" y="388.83"/><use href="#tr" x="814.56" y="380.34"/><use href="#tr" x="834.66" y="386.46"/><use href="#tr" x="841.89" y="404.96"/><use href="#tr" x="824.21" y="394.76"/><use href="#tr" x="827.51" y="394.13"/><use href="#tr" x="844.71" y="391.65"/><use href="#tr" x="852.84" y="421.77"/><use href="#tr" x="821.12" y="386.45"/><use href="#tr" x="815.34" y="389.49"/><use href="#tr" x="819.84" y="394.94"/><use href="#tr" x="834.16" y="390.93"/><use href="#tr" x="819.22" y="392.16"/><use href="#tr" x="841.38" y="393.22"/><use href="#tr" x="839.95" y="407.24"/><use href="#tr" x="827.32" y="370.7"/><use href="#tr" x="850.34" y="417.03"/><use href="#tr" x="815.08" y="379.79"/><use href="#tr" x="847.66" y="387.1"/><use href="#tr" x="833.1" y="398.52"/><use href="#tr" x="860.22" y="411.1"/><use href="#tr" x="812.85" y="402.49"/><use href="#tr" x="831.86" y="395.88"/><use href="#tr" x="825.55" y="415.32"/><use href="#tr" x="882.45" y="434.41"/><use href="#tr" x="883.63" y="417.57"/><use href="#tr" x="867.28" y="438.49"/><use href="#tr" x="852.27" y="413.78"/><use href="#tr" x="881.22" y="428.07"/><use href="#tr" x="861.17" y="430.07"/><use href="#tr" x="867.11" y="405.88"/><use href="#tr" x="850.31" y="416.31"/><use href="#tr" x="865.71" y="415.38"/><use href="#tr" x="832.4" y="408.27"/><use href="#tr" x="870.37" y="433.29"/><use href="#tr" x="858.32" y="425.81"/><use href="#tr" x="859.59" y="414.76"/><use href="#tr" x="858.15" y="403.28"/><use href="#tr" x="851.89" y="421.76"/><use href="#tr" x="867.63" y="437.78"/><use href="#tr" x="850.44" y="399.24"/><use href="#tr" x="872.27" y="413.67"/><use href="#tr" x="856.19" y="418.96"/><use href="#tr" x="864.79" y="420.19"/><use href="#tr" x="877.81" y="434.96"/><use href="#tr" x="875.44" y="419.71"/><use href="#tr" x="850.29" y="419.42"/><use href="#tr" x="864.17" y="406.69"/><use href="#tr" x="865.27" y="437.09"/><use href="#tr" x="866.91" y="420.17"/><use href="#tr" x="838.3" y="396.17"/><use href="#tr" x="869.22" y="422.8"/><use href="#tr" x="883.21" y="413.91"/><use href="#tr" x="872.81" y="410.83"/><use href="#tr" x="867.89" y="409.59"/><use href="#tr" x="870.2" y="419.69"/><use href="#tr" x="874.42" y="429.29"/><use href="#tr" x="895.69" y="443.38"/><use href="#tr" x="859.9" y="412.44"/><use href="#tr" x="883.13" y="435.3"/><use href="#tr" x="897.1" y="447.91"/><use href="#tr" x="893.54" y="468.77"/><use href="#tr" x="901.96" y="439.68"/><use href="#tr" x="890.9" y="431.94"/><use href="#tr" x="927.45" y="487.08"/><use href="#tr" x="907.55" y="456.03"/><use href="#tr" x="902.25" y="461.36"/><use href="#tr" x="892.82" y="432.85"/><use href="#tr" x="888.93" y="446.09"/><use href="#tr" x="896.05" y="471.47"/><use href="#tr" x="905.51" y="443.14"/><use href="#tr" x="918.78" y="459.52"/><use href="#tr" x="915.83" y="479.03"/><use href="#tr" x="882.05" y="437.65"/><use href="#tr" x="887.24" y="427.77"/><use href="#tr" x="919.04" y="461.29"/><use href="#tr" x="903.1" y="447.86"/><use href="#tr" x="906.76" y="463.52"/><use href="#tr" x="917.47" y="470.25"/><use href="#tr" x="928.46" y="458.03"/><use href="#tr" x="881.78" y="422.97"/><use href="#tr" x="916.33" y="452.17"/><use href="#tr" x="924.32" y="468.42"/><use href="#tr" x="904.54" y="442.2"/><use href="#tr" x="880.87" y="449.17"/><use href="#tr" x="881.4" y="445.18"/><use href="#tr" x="885.78" y="472.15"/><use href="#tr" x="886.65" y="449.21"/><use href="#tr" x="887.75" y="460.15"/><use href="#tr" x="896.97" y="423.12"/><use href="#tr" x="904.24" y="455.8"/><use href="#tr" x="897.25" y="429.29"/><use href="#tr" x="856.43" y="446.04"/><use href="#tr" x="903.1" y="470.68"/><use href="#tr" x="882.41" y="449.37"/><use href="#tr" x="904.32" y="435.95"/><use href="#tr" x="912.94" y="440.33"/><use href="#tr" x="897.88" y="447.38"/><use href="#tr" x="902.19" y="454.3"/><use href="#tr" x="928.74" y="441.14"/><use href="#tr" x="926.09" y="471.51"/><use href="#tr" x="920.83" y="459.48"/><use href="#tr" x="914.87" y="445"/><use href="#tr" x="883.41" y="446.44"/><use href="#tr" x="904.12" y="450.59"/><use href="#tr" x="911.22" y="447.47"/><use href="#tr" x="921.99" y="476.1"/><use href="#tr" x="895.28" y="446.58"/><use href="#tr" x="873.29" y="422.32"/><use href="#tr" x="894.33" y="441.47"/><use href="#tr" x="889.23" y="448.83"/><use href="#tr" x="883.69" y="408.86"/><use href="#tr" x="886.07" y="455.02"/><use href="#tr" x="896.99" y="447.05"/><use href="#tr" x="907.66" y="451.64"/><use href="#tr" x="889.12" y="450.55"/><use href="#tr" x="910.05" y="454.41"/><use href="#tr" x="880.32" y="444.07"/><use href="#tr" x="902.77" y="453.86"/><use href="#tr" x="900.17" y="467.79"/><use href="#tr" x="906.74" y="436.98"/><use href="#tr" x="897.19" y="429.99"/><use href="#tr" x="892.94" y="440.17"/><use href="#tr" x="917.33" y="461.9"/><use href="#tr" x="917.55" y="475.52"/><use href="#tr" x="905.43" y="460.7"/><use href="#tr" x="916.9" y="480.48"/><use href="#tr" x="902.28" y="450.05"/><use href="#tr" x="919.75" y="454.84"/><use href="#tr" x="896.79" y="452.77"/><use href="#tr" x="903.08" y="476.66"/><use href="#tr" x="912.18" y="452.83"/><use href="#tr" x="887.31" y="454.22"/><use href="#tr" x="896.36" y="452.9"/><use href="#tr" x="926.44" y="475.21"/><use href="#tr" x="895.53" y="474.6"/><use href="#tr" x="875.15" y="439.42"/><use href="#tr" x="892.84" y="443.6"/><use href="#tr" x="882.54" y="462.78"/><use href="#tr" x="907.53" y="430.42"/><use href="#tr" x="910.06" y="454.56"/><use href="#tr" x="886.47" y="440.79"/><use href="#tr" x="903.27" y="447.92"/><use href="#tr" x="912.55" y="441.65"/><use href="#tr" x="912.6" y="467.23"/><use href="#tr" x="889.68" y="429.04"/><use href="#tr" x="890.04" y="459.39"/><use href="#tr" x="887.55" y="418.99"/><use href="#tr" x="910.35" y="459.37"/><use href="#tr" x="911.01" y="450.82"/><use href="#tr" x="892.81" y="460.81"/><use href="#tr" x="905.72" y="461.31"/><use href="#tr" x="871.95" y="433.83"/><use href="#tr" x="914.09" y="448.95"/><use href="#tr" x="890.04" y="445.37"/><use href="#tr" x="929.76" y="465.8"/><use href="#tr" x="906.67" y="452.09"/><use href="#tr" x="914.24" y="485.53"/><use href="#tr" x="941.72" y="456.86"/><use href="#tr" x="884.25" y="455.14"/><use href="#tr" x="881.89" y="453.3"/><use href="#tr" x="903.95" y="431.38"/><use href="#tr" x="904.13" y="461.02"/><use href="#tr" x="924.09" y="470.64"/><use href="#tr" x="899.74" y="434.14"/><use href="#tr" x="894.43" y="452.46"/><use href="#tr" x="868.62" y="435.94"/><use href="#tr" x="916.71" y="472.16"/><use href="#tr" x="908.33" y="452.57"/><use href="#tr" x="932.49" y="494.75"/><use href="#tr" x="885.02" y="451.72"/><use href="#tr" x="900.62" y="447.73"/><use href="#tr" x="891.95" y="442.25"/><use href="#tr" x="903" y="457.37"/><use href="#tr" x="893.23" y="456.65"/><use href="#tr" x="924.65" y="454.46"/><use href="#tr" x="908.68" y="442.03"/><use href="#tr" x="905.99" y="437.24"/><use href="#tr" x="886.32" y="440.21"/><use href="#tr" x="906.25" y="438.57"/><use href="#tr" x="884.76" y="446.3"/><use href="#tr" x="890.95" y="452.42"/><use href="#tr" x="896.93" y="440.69"/><use href="#tr" x="908.76" y="463.26"/><use href="#tr" x="911.49" y="473.28"/><use href="#tr" x="889.37" y="440.05"/><use href="#tr" x="905.39" y="462.94"/><use href="#tr" x="921.71" y="441.84"/><use href="#tr" x="881.63" y="443.11"/><use href="#tr" x="904.38" y="416.79"/><use href="#tr" x="928.52" y="473.67"/><use href="#tr" x="911.25" y="476.66"/><use href="#tr" x="887.06" y="417.64"/><use href="#tr" x="891.84" y="441.23"/><use href="#tr" x="919.41" y="445.89"/><use href="#tr" x="895.05" y="454.8"/><use href="#tr" x="883.96" y="436.05"/><use href="#tr" x="899.06" y="465.56"/><use href="#tr" x="891.48" y="449.52"/><use href="#tr" x="925.26" y="478.19"/><use href="#tr" x="921.68" y="476.1"/><use href="#tr" x="895.2" y="418.61"/><use href="#tr" x="885.91" y="462.68"/><use href="#tr" x="895.67" y="439.84"/><use href="#tr" x="867.5" y="427.79"/><use href="#tr" x="899.55" y="432.18"/><use href="#tr" x="904.53" y="453.73"/><use href="#tr" x="887.04" y="428.52"/><use href="#tr" x="901.93" y="462.72"/>
</g>
<g stroke="#fb8761" stroke-opacity="0.6">
<use href="#ci" x="1161.74" y="415.16"/><use href="#ci" x="1156.11" y="412.03"/><use href="#ci" x="1157.88" y="416.94"/><use href="#ci" x="1194.18" y="409.44"/><use href="#ci" x="1183.44" y="408.32"/><use href="#ci" x="1155.23" y="414.86"/><use href="#ci" x="1222.61" y="401.97"/><use href="#ci" x="1165.15" y="411.81"/><use href="#ci" x="1163.69" y="414.05"/><use href="#ci" x="1177.54" y="418.74"/><use href="#ci" x="1193.27" y="405.61"/><use href="#ci" x="1176.92" y="440.37"/><use href="#ci" x="1148.35" y="438.46"/><use href="#ci" x="1170.52" y="424.38"/><use href="#ci" x="1179.34" y="397.08"/><use href="#ci" x="1171.11" y="417.47"/><use href="#ci" x="1180.81" y="406.82"/><use href="#ci" x="1156.93" y="417.17"/><use href="#ci" x="1179.14" y="410.06"/><use href="#ci" x="1159.83" y="426.76"/><use href="#ci" x="1200.75" y="415.39"/><use href="#ci" x="1203.22" y="408.39"/><use href="#ci" x="1146.9" y="439.58"/><use href="#ci" x="1162.93" y="419.34"/><use href="#ci" x="1163.92" y="426.71"/><use href="#ci" x="1168.96" y="433.76"/><use href="#ci" x="1150.16" y="419.71"/><use href="#ci" x="1173.35" y="413.38"/><use href="#ci" x="1185.07" y="385.5"/><use href="#ci" x="1206.77" y="400.79"/><use href="#ci" x="1172.02" y="419.54"/><use href="#ci" x="1183.88" y="418.6"/><use href="#ci" x="1200.61" y="394.39"/><use href="#ci" x="1194.36" y="400.73"/><use href="#ci" x="1161.73" y="418.76"/><use href="#ci" x="1166.15" y="413.77"/><use href="#ci" x="1184.99" y="402.64"/><use href="#ci" x="1185.18" y="415.13"/><use href="#ci" x="1144.24" y="413.94"/><use href="#ci" x="1156.05" y="419.44"/><use href="#ci" x="1191.46" y="404.33"/><use href="#ci" x="1161.96" y="426.69"/><use href="#ci" x="1152.81" y="413.94"/><use href="#ci" x="1171.25" y="417.22"/><use href="#ci" x="1163.03" y="412.78"/><use href="#ci" x="1158.48" y="427.93"/><use href="#ci" x="1176.24" y="441.06"/><use href="#ci" x="1166.82" y="414.96"/><use href="#ci" x="1148.7" y="407.88"/><use href="#ci" x="1182.43" y="412.61"/><use href="#ci" x="1133.55" y="444.69"/><use href="#ci" x="1179.78" y="403.67"/><use href="#ci" x="1192.74" y="408.21"/><use href="#ci" x="1176.9" y="399.32"/><use href="#ci" x="1130.31" y="438.66"/><use href="#ci" x="1173.82" y="441.6"/><use href="#ci" x="1175.21" y="416.04"/><use href="#ci" x="1196.6" y="411.51"/><use href="#ci" x="1181.91" y="420.34"/><use href="#ci" x="1179.71" y="426.89"/><use href="#ci" x="1155.05" y="410.41"/><use href="#ci" x="1170" y="403.83"/><use href="#ci" x="1177.84" y="410.35"/><use href="#ci" x="1147.51" y="429.77"/><use href="#ci" x="1167.39" y="425.02"/><use href="#ci" x="1200.03" y="397.38"/><use href="#ci" x="1155.74" y="422.39"/><use href="#ci" x="1181.32" y="391.83"/><use href="#ci" x="1198.52" y="397.68"/><use href="#ci" x="1188.77" y="409.88"/><use href="#ci" x="1164.54" y="423.91"/><use href="#ci" x="1178.71" y="392.96"/><use href="#ci" x="1165.33" y="413.7"/><use href="#ci" x="1171.44" y="426.4"/><use href="#ci" x="1152.38" y="411.84"/><use href="#ci" x="1153.86" y="425.18"/><use href="#ci" x="1182.92" y="417.69"/><use href="#ci" x="1167.38" y="415.3"/><use href="#ci" x="1170.03" y="403.45"/><use href="#ci" x="1173.13" y="418.34"/><use href="#ci" x="1178.82" y="406.01"/><use href="#ci" x="1155.78" y="423.66"/><use href="#ci" x="1188.96" y="399.39"/><use href="#ci" x="1161.93" y="437.71"/><use href="#ci" x="1177.1" y="407.02"/><use href="#ci" x="1175.84" y="428.79"/><use href="#ci" x="1165.15" y="426.76"/><use href="#ci" x="1167.82" y="422.84"/><use href="#ci" x="1177.29" y="413.06"/><use href="#ci" x="1159.72" y="429.43"/><use href="#ci" x="1159.74" y="424.83"/><use href="#ci" x="1197.02" y="409.31"/><use href="#ci" x="1171.99" y="416.86"/><use href="#ci" x="1179.52" y="427.18"/><use href="#ci" x="1150.66" y="442.88"/><use href="#ci" x="1159.15" y="430.66"/><use href="#ci" x="1179.49" y="415.29"/><use href="#ci" x="1168.35" y="433.39"/><use href="#ci" x="1188.62" y="404.56"/><use href="#ci" x="1176.38" y="414.77"/><use href="#ci" x="1136.08" y="422.42"/><use href="#ci" x="1184.33" y="409.64"/><use href="#ci" x="1171.32" y="419.54"/><use href="#ci" x="1124.93" y="434.6"/><use href="#ci" x="1196.76" y="416.92"/><use href="#ci" x="1198.64" y="398.42"/><use href="#ci" x="1183.39" y="397.3"/><use href="#ci" x="1179.42" y="404.25"/><use href="#ci" x="1160.09" y="410.65"/><use href="#ci" x="1192.3" y="417.28"/><use href="#ci" x="1188.53" y="427.36"/><use href="#ci" x="1195.67" y="400.38"/><use href="#ci" x="1175.28" y="399.23"/><use href="#ci" x="1174.89" y="408.81"/><use href="#ci" x="1184.53" y="415.66"/><use href="#ci" x="1169.07" y="421.56"/><use href="#ci" x="1173.77" y="415.85"/><use href="#ci" x="1232.2" y="384.19"/><use href="#ci" x="1174.79" y="401.14"/><use href="#ci" x="1139.19" y="440.2"/><use href="#ci" x="1150.26" y="433.72"/><use href="#ci" x="1187.14" y="397.38"/><use href="#ci" x="1168.33" y="416.78"/><use href="#ci" x="1172.13" y="422.24"/><use href="#ci" x="1166.2" y="421.03"/><use href="#ci" x="1161.64" y="428.92"/><use href="#ci" x="1152.97" y="435.97"/><use href="#ci" x="1200.95" y="395.17"/><use href="#ci" x="1186.64" y="403.41"/><use href="#ci" x="1170.05" y="430.34"/><use href="#ci" x="1195.15" y="395.15"/><use href="#ci" x="1194.09" y="390.42"/><use href="#ci" x="1155.06" y="430.63"/><use href="#ci" x="1142.03" y="439.72"/><use href="#ci" x="1154.08" y="411.81"/><use href="#ci" x="1175.22" y="415.47"/><use href="#ci" x="1203.58" y="400.93"/><use href="#ci" x="1193.38" y="410"/><use href="#ci" x="1175.73" y="407.76"/><use href="#ci" x="1188.13" y="405.14"/><use href="#ci" x="1196.11" y="407.28"/><use href="#ci" x="1155.51" y="417.59"/><use href="#ci" x="1166.61" y="429.73"/><use href="#ci" x="1172.14" y="406.49"/><use href="#ci" x="1144.24" y="411.21"/><use href="#ci" x="1168" y="436.72"/><use href="#ci" x="1177.15" y="406.22"/><use href="#ci" x="1198.46" y="407"/><use href="#ci" x="1179.62" y="420.39"/><use href="#ci" x="1153.64" y="419.87"/><use href="#ci" x="1180.79" y="424.76"/><use href="#ci" x="1185" y="406.3"/><use href="#ci" x="1137.7" y="424.95"/><use href="#ci" x="1161.14" y="414.83"/><use href="#ci" x="1208.13" y="389.68"/><use href="#ci" x="1155.26" y="421.37"/><use href="#ci" x="1162.04" y="422.61"/><use href="#ci" x="1131.53" y="440.25"/><use href="#ci" x="1141.4" y="421.53"/><use href="#ci" x="1208.3" y="403.21"/><use href="#ci" x="1162.08" y="424.18"/><use href="#ci" x="1160.73" y="437.92"/><use href="#ci" x="1159.53" y="429"/><use href="#ci" x="1136.73" y="432.98"/><use href="#ci" x="1182.63" y="410.42"/><use href="#ci" x="1164.01" y="431.93"/><use href="#ci" x="1150.43" y="424.65"/><use href="#ci" x="1146.92" y="432.61"/><use href="#ci" x="1161.31" y="423.12"/><use href="#ci" x="1158.55" y="427.6"/><use href="#ci" x="1185.65" y="393.37"/><use href="#ci" x="1176.37" y="397.56"/><use href="#ci" x="1181.8" y="410.27"/><use href="#ci" x="1184.42" y="402.3"/><use href="#ci" x="1185.93" y="411.79"/><use href="#ci" x="1169.3" y="406.95"/><use href="#ci" x="1188.92" y="410.89"/><use href="#ci" x="1175.95" y="421.6"/><use href="#ci" x="1206.24" y="405.77"/><use href="#ci" x="1193.32" y="407.59"/><use href="#ci" x="1177.68" y="415.14"/><use href="#ci" x="1138.59" y="436.64"/><use href="#ci" x="1150.49" y="420.24"/><use href="#ci" x="1180.27" y="419.55"/><use href="#ci" x="1148.64" y="432.83"/><use href="#ci" x="1165.26" y="404.69"/><use href="#ci" x="1191.14" y="409.62"/><use href="#ci" x="1162.9" y="433.8"/><use href="#ci" x="1142.74" y="425.7"/><use href="#ci" x="1187.74" y="403.46"/><use href="#ci" x="1165.92" y="412.7"/><use href="#ci" x="1183.76" y="417.18"/><use href="#ci" x="1154.14" y="420.49"/><use href="#ci" x="1210.58" y="401.12"/><use href="#ci" x="1195.4" y="400.56"/><use href="#ci" x="1169.83" y="414.9"/><use href="#ci" x="1199.22" y="387.14"/><use href="#ci" x="1173.31" y="418.8"/><use href="#ci" x="1184.01" y="395.42"/><use href="#ci" x="1184.64" y="406.4"/><use href="#ci" x="1142.7" y="433.75"/><use href="#ci" x="1173.52" y="421.59"/><use href="#ci" x="1173.71" y="429.72"/><use href="#ci" x="1154.45" y="420.96"/><use href="#ci" x="1170.21" y="429.83"/><use href="#ci" x="1189.93" y="409.45"/><use href="#ci" x="1178.83" y="416.17"/><use href="#ci" x="1162.85" y="424.65"/><use href="#ci" x="1151.34" y="430.63"/><use href="#ci" x="1195.94" y="417.18"/><use href="#ci" x="1168.24" y="416.25"/><use href="#ci" x="1159.97" y="392.94"/><use href="#ci" x="1188.81" y="407.05"/><use href="#ci" x="1190.24" y="405.73"/><use href="#ci" x="1178.68" y="420.81"/><use href="#ci" x="1168.36" y="411.43"/><use href="#ci" x="1157.94" y="437.26"/><use href="#ci" x="1139.77" y="437"/><use href="#ci" x="1188.49" y="414.8"/><use href="#ci" x="1193.97" y="416.61"/><use href="#ci" x="1178.49" y="400.78"/><use href="#ci" x="1165.89" y="420.55"/><use href="#ci" x="1176.72" y="426.7"/><use href="#ci" x="1175.47" y="430.3"/><use href="#ci" x="1139.18" y="433.37"/><use href="#ci" x="1171.07" y="413.71"/><use href="#ci" x="1218.77" y="390.75"/><use href="#ci" x="1147.24" y="423.98"/><use href="#ci" x="1157.36" y="421.06"/><use href="#ci" x="1172.57" y="418.92"/><use href="#ci" x="1170.17" y="416"/><use href="#ci" x="1146.81" y="437.71"/><use href="#ci" x="1162.38" y="415.24"/><use href="#ci" x="1166.08" y="414.99"/><use href="#ci" x="1144.74" y="443.28"/><use href="#ci" x="1136.96" y="432.92"/><use href="#ci" x="1185.68" y="402.31"/><use href="#ci" x="1168.48" y="417.66"/><use href="#ci" x="1166.49" y="414.27"/><use href="#ci" x="1172.5" y="413.16"/>
</g>
<g stroke="#b5367a" stroke-opacity="0.55">
<use href="#tr" x="801.16" y="377.05"/><use href="#tr" x="788.44" y="375.51"/><use href="#tr" x="760.83" y="344.52"/><use href="#tr" x="774.41" y="372.48"/><use href="#tr" x="789.11" y="371.8"/><use href="#tr" x="774.96" y="350.45"/><use href="#tr" x="794.27" y="354.31"/><use href="#tr" x="789.22" y="356.32"/><use href="#tr" x="782.27" y="362.43"/><use href="#tr" x="788.5" y="348.81"/><use href="#tr" x="791.49" y="363.01"/><use href="#tr" x="793.63" y="383.2"/><use href="#tr" x="769.96" y="349.77"/><use href="#tr" x="787.43" y="386.2"/><use href="#tr" x="779.01" y="373.46"/><use href="#tr" x="792.04" y="362.64"/><use href="#tr" x="775.43" y="337.37"/><use href="#tr" x="786.22" y="361.1"/><use href="#tr" x="808.09" y="372.43"/><use href="#tr" x="766.32" y="351.17"/><use href="#tr" x="746.34" y="350.82"/><use href="#tr" x="765.36" y="332.59"/><use href="#tr" x="790.05" y="359.93"/><use href="#tr" x="816.38" y="388.36"/><use href="#tr" x="793.66" y="380.78"/><use href="#tr" x="805.12" y="381.99"/><use href="#tr" x="783.06" y="364.22"/><use href="#tr" x="796.41" y="385.35"/><use href="#tr" x="777.28" y="360.81"/><use href="#tr" x="794.17" y="364.84"/><use href="#tr" x="779.83" y="357.54"/><use href="#tr" x="780.15" y="348.68"/><use href="#tr" x="782.78" y="365.59"/><use href="#tr" x="771.77" y="361.99"/><use href="#tr" x="817.1" y="355.21"/><use href="#tr" x="779.84" y="371.35"/><use href="#tr" x="790.08" y="363.91"/><use href="#tr" x="776.51" y="359.84"/><use href="#tr" x="798.28" y="378.64"/><use href="#tr" x="786.6" y="334.66"/><use href="#tr" x="800.33" y="358.08"/><use href="#tr" x="780.86" y="353.67"/><use href="#tr" x="775.02" y="343.82"/><use href="#tr" x="775.4" y="356.78"/><use href="#tr" x="775.38" y="347.38"/><use href="#tr" x="790.72" y="344.71"/><use href="#tr" x="775.62" y="360.97"/><use href="#tr" x="782.2" y="371.73"/><use href="#tr" x="788.9" y="370.4"/><use href="#tr" x="785.96" y="353"/><use href="#tr" x="785.12" y="357.74"/><use href="#tr" x="785.02" y="367.29"/><use href="#tr" x="772.79" y="358.73"/><use href="#tr" x="788.42" y="375.31"/><use href="#tr" x="797.79" y="366.89"/><use href="#tr" x="795.05" y="351.43"/><use href="#tr" x="822.31" y="380.79"/><use href="#tr" x="794.14" y="373.99"/><use href="#tr" x="778.13" y="364.43"/><use href="#tr" x="766.07" y="372.96"/><use href="#tr" x="779.99" y="358.37"/><use href="#tr" x="775.39" y="356.42"/><use href="#tr" x="801.24" y="370.88"/><use href="#tr" x="776.29" y="349.36"/><use href="#tr" x="778.36" y="365.05"/><use href="#tr" x="774.37" y="356.95"/><use href="#tr" x="800.22" y="369.76"/><use href="#tr" x="769.78" y="336.44"/><use href="#tr" x="779.49" y="355.14"/><use href="#tr" x="784.48" y="355.71"/><use href="#tr" x="781.41" y="372.98"/><use href="#tr" x="785.21" y="372.18"/><use href="#tr" x="786.74" y="349.91"/><use href="#tr" x="791.55" y="379.57"/><use href="#tr" x="791.79" y="359.07"/><use href="#tr" x="818.71" y="387.74"/><use href="#tr" x="755.44" y="352.79"/><use href="#tr" x="798.78" y="358.95"/><use href="#tr" x="768.06" y="349.9"/><use href="#tr" x="778.99" y="342.78"/><use href="#tr" x="823.64" y="366.78"/><use href="#tr" x="803.44" y="386.39"/><use href="#tr" x="757.16" y="340.11"/><use href="#tr" x="785.5" y="351.35"/><use href="#tr" x="792.12" y="347.25"/><use href="#tr" x="755.65" y="333.86"/><use href="#tr" x="775.62" y="369.65"/><use href="#tr" x="787.35" y="367.31"/><use href="#tr" x="789.25" y="359.53"/><use href="#tr" x="759.17" y="333.3"/><use href="#tr" x="799.32" y="372.8"/><use href="#tr" x="796.36" y="350.91"/><use href="#tr" x="775.42" y="369.53"/><use href="#tr" x="770.29" y="355.65"/><use href="#tr" x="787.41" y="376.77"/><use href="#tr" x="800.42" y="365.67"/><use href="#tr" x="772.18" y="361.26"/><use href="#tr" x="781.35" y="366.19"/><use href="#tr" x="804.65" y="357.33"/><use href="#tr" x="755.05" y="339.96"/><use href="#tr" x="783.89" y="363.66"/><use href="#tr" x="759.87" y="334.98"/><use href="#tr" x="772.79" y="347.27"/><use href="#tr" x="788.26" y="368.4"/><use href="#tr" x="782.14" y="358.15"/><use href="#tr" x="783.99" y="348.04"/><use href="#tr" x="776.36" y="361.28"/><use href="#tr" x="794.89" y="370.92"/><use href="#tr" x="792.74" y="369.55"/><use href="#tr" x="772.14" y="352.2"/><use href="#tr" x="785.64" y="366.58"/><use href="#tr" x="778.87" y="352.73"/><use href="#tr" x="823.5" y="379.5"/><use href="#tr" x="777.61" y="346.36"/><use href="#tr" x="773.18" y="365"/><use href="#tr" x="790.52" y="340.91"/><use href="#tr" x="774.6" y="359.35"/><use href="#tr" x="794.27" y="350.59"/><use href="#tr" x="797.12" y="350.75"/><use href="#tr" x="766.49" y="334.83"/><use href="#tr" x="777.23" y="351.84"/><use href="#tr" x="760.84" y="351.24"/><use href="#tr" x="811.48" y="360.51"/><use href="#tr" x="809.87" y="399.41"/><use href="#tr" x="797.23" y="383.81"/>
</g>
<g stroke="#b5367a" stroke-opacity="0.6">
<use href="#ci" x="1244.07" y="376.13"/><use href="#ci" x="1253.74" y="386.07"/><use href="#ci" x="1236.02" y="376.57"/><use href="#ci" x="1242.01" y="380.97"/><use href="#ci" x="1223.55" y="385.89"/><use href="#ci" x="1204.28" y="399.15"/><use href="#ci" x="1245.07" y="367.94"/><use href="#ci" x="1231.14" y="385.42"/><use href="#ci" x="1250.05" y="373.67"/><use href="#ci" x="1262.16" y="376.59"/><use href="#ci" x="1242.63" y="374.91"/><use href="#ci" x="1252.05" y="382.8"/><use href="#ci" x="1226.51" y="399.47"/><use href="#ci" x="1258.03" y="373.62"/><use href="#ci" x="1217.24" y="391.97"/><use href="#ci" x="1237.31" y="382.94"/><use href="#ci" x="1231.57" y="391.48"/><use href="#ci" x="1244" y="376.03"/><use href="#ci" x="1246.79" y="387.17"/><use href="#ci" x="1224.11" y="397.58"/><use href="#ci" x="1235.04" y="382.82"/><use href="#ci" x="1220.72" y="385.03"/><use href="#ci" x="1239.26" y="391.9"/><use href="#ci" x="1245.59" y="367.3"/><use href="#ci" x="1217.72" y="384.84"/><use href="#ci" x="1265.65" y="355.1"/><use href="#ci" x="1234.19" y="377"/><use href="#ci" x="1258.83" y="380.16"/><use href="#ci" x="1281.12" y="363.19"/><use href="#ci" x="1218.98" y="391.66"/><use href="#ci" x="1238.46" y="384.41"/><use href="#ci" x="1244.32" y="389.26"/><use href="#ci" x="1227.85" y="381.2"/><use href="#ci" x="1263.16" y="371.78"/><use href="#ci" x="1243.02" y="382.39"/><use href="#ci" x="1263.23" y="365.46"/><use href="#ci" x="1232.29" y="375.37"/><use href="#ci" x="1244" y="363.34"/><use href="#ci" x="1231.84" y="370.11"/><use href="#ci" x="1235.44" y="376.57"/><use href="#ci" x="1250.24" y="380.45"/><use href="#ci" x="1254.75" y="375.78"/><use href="#ci" x="1237.16" y="396.5"/><use href="#ci" x="1229.65" y="381.27"/><use href="#ci" x="1237.17" y="388.87"/><use href="#ci" x="1238.09" y="371.06"/><use href="#ci" x="1225.45" y="395.01"/><use href="#ci" x="1240.12" y="379.81"/><use href="#ci" x="1266.18" y="377.01"/><use href="#ci" x="1223.33" y="388.09"/><use href="#ci" x="1230.75" y="360.6"/><use href="#ci" x="1274.88" y="369.63"/><use href="#ci" x="1237.82" y="387.7"/><use href="#ci" x="1223.38" y="371.52"/><use href="#ci" x="1244.45" y="367.4"/><use href="#ci" x="1246.41" y="381.91"/><use href="#ci" x="1259.43" y="374.36"/><use href="#ci" x="1225.84" y="402.65"/><use href="#ci" x="1249.87" y="386.36"/><use href="#ci" x="1245.66" y="376.18"/><use href="#ci" x="1236.42" y="365.62"/><use href="#ci" x="1232.08" y="381.13"/><use href="#ci" x="1246.8" y="374.64"/><use href="#ci" x="1262.95" y="367.81"/><use href="#ci" x="1251.21" y="387.89"/><use href="#ci" x="1242.98" y="368.67"/><use href="#ci" x="1253.4" y="381.03"/><use href="#ci" x="1248.6" y="394.78"/><use href="#ci" x="1231.05" y="377.46"/><use href="#ci" x="1246.62" y="370.04"/><use href="#ci" x="1270.48" y="371.74"/><use href="#ci" x="1258.71" y="380.73"/><use href="#ci" x="1239.42" y="376.97"/><use href="#ci" x="1262.99" y="368.6"/><use href="#ci" x="1253.41" y="359.96"/><use href="#ci" x="1265.9" y="373.08"/><use href="#ci" x="1212.34" y="387.45"/><use href="#ci" x="1247.68" y="375.7"/><use href="#ci" x="1271.29" y="360.53"/><use href="#ci" x="1274.48" y="369.63"/><use href="#ci" x="1241.2" y="373.83"/><use href="#ci" x="1231.24" y="374.67"/><use href="#ci" x="1231" y="383.18"/><use href="#ci" x="1247.41" y="385.7"/><use href="#ci" x="1241.98" y="376.33"/><use href="#ci" x="1257.74" y="387.36"/><use href="#ci" x="1243.49" y="383.58"/><use href="#ci" x="1232.59" y="380.06"/><use href="#ci" x="1239.92" y="378.49"/><use href="#ci" x="1242.63" y="382.38"/><use href="#ci" x="1240.84" y="390.31"/><use href="#ci" x="1229.96" y="404.89"/><use href="#ci" x="1245.36" y="387.54"/><use href="#ci" x="1238.63" y="388.33"/><use href="#ci" x="1241.63" y="385.79"/><use href="#ci" x="1232.52" y="394.18"/><use href="#ci" x="1248.14" y="362.54"/><use href="#ci" x="1253.61" y="381.52"/><use href="#ci" x="1206.29" y="395.79"/><use href="#ci" x="1263.59" y="378.3"/><use href="#ci" x="1251.46" y="387.92"/><use href="#ci" x="1252.26" y="376.68"/><use href="#ci" x="1248.6" y="363"/><use href="#ci" x="1252.2" y="364.96"/><use href="#ci" x="1220.62" y="377.04"/><use href="#ci" x="1272.53" y="374.62"/><use href="#ci" x="1233.23" y="382.75"/><use href="#ci" x="1231.81" y="365.64"/><use href="#ci" x="1254.15" y="366.74"/><use href="#ci" x="1211.52" y="378.3"/><use href="#ci" x="1266.89" y="367.32"/><use href="#ci" x="1239.98" y="393.37"/><use href="#ci" x="1246.76" y="402.31"/><use href="#ci" x="1284.83" y="362.83"/><use href="#ci" x="1216.53" y="384.07"/><use href="#ci" x="1211.83" y="383.46"/><use href="#ci" x="1245.24" y="364.86"/><use href="#ci" x="1231.98" y="392.86"/><use href="#ci" x="1229.74" y="385.94"/><use href="#ci" x="1239.66" y="376.23"/><use href="#ci" x="1247.19" y="371.55"/><use href="#ci" x="1236.71" y="371.88"/><use href="#ci" x="1247.85" y="362.98"/><use href="#ci" x="1221.68" y="386.35"/><use href="#ci" x="1266.6" y="368.55"/><use href="#ci" x="1212.03" y="384.11"/><use href="#ci" x="1243.83" y="371.59"/><use href="#ci" x="1275.03" y="370.04"/><use href="#ci" x="1233.52" y="376.83"/><use href="#ci" x="1261.05" y="372.76"/><use href="#ci" x="1218.45" y="367.75"/><use href="#ci" x="1215.67" y="374.11"/><use href="#ci" x="1213.38" y="387.93"/><use href="#ci" x="1240.1" y="389.31"/><use href="#ci" x="1268.31" y="361.98"/><use href="#ci" x="1253.43" y="383.07"/><use href="#ci" x="1257.51" y="376.59"/><use href="#ci" x="1291.92" y="363.12"/><use href="#ci" x="1256.66" y="393.05"/><use href="#ci" x="1242.89" y="385.58"/><use href="#ci" x="1246.32" y="372.61"/><use href="#ci" x="1260.02" y="370.59"/><use href="#ci" x="1245.93" y="379.89"/><use href="#ci" x="1249.93" y="376.07"/><use href="#ci" x="1243.28" y="386.32"/>
</g>
<g stroke="#51127c" stroke-opacity="0.6">
<use href="#tr" x="934.27" y="508.15"/><use href="#tr" x="952.34" y="519.63"/><use href="#tr" x="977.76" y="501.66"/><use href="#tr" x="972.47" y="513.65"/><use href="#tr" x="949.39" y="493.18"/><use href="#tr" x="956.86" y="505.8"/><use href="#tr" x="945.35" y="506.22"/><use href="#tr" x="922.7" y="496.02"/><use href="#tr" x="958.82" y="500.52"/><use href="#tr" x="970.68" y="507.67"/><use href="#tr" x="976.39" y="512.01"/><use href="#tr" x="961.74" y="521.56"/><use href="#tr" x="941.45" y="512.33"/><use href="#tr" x="953.95" y="495.83"/><use href="#tr" x="936.19" y="509.57"/><use href="#tr" x="956.58" y="517.88"/><use href="#tr" x="930.95" y="510.53"/><use href="#tr" x="961.71" y="512.55"/><use href="#tr" x="972.9" y="525.1"/><use href="#tr" x="968.95" y="524.32"/><use href="#tr" x="959.46" y="504.34"/><use href="#tr" x="983.97" y="515.56"/><use href="#tr" x="961.34" y="506.08"/><use href="#tr" x="956.02" y="495.1"/><use href="#tr" x="963.12" y="502.76"/><use href="#tr" x="947.87" y="513.51"/><use href="#tr" x="948.97" y="513.85"/><use href="#tr" x="976.61" y="499.08"/><use href="#tr" x="968.82" y="504.89"/><use href="#tr" x="954.17" y="502.9"/><use href="#tr" x="976.62" y="508.01"/><use href="#tr" x="962" y="510.28"/><use href="#tr" x="952.24" y="509.77"/><use href="#tr" x="975.39" y="506.06"/><use href="#tr" x="957.58" y="513.11"/><use href="#tr" x="964.94" y="509.55"/><use href="#tr" x="964.88" y="512.94"/><use href="#tr" x="971.06" y="502.41"/><use href="#tr" x="973.15" y="521.74"/><use href="#tr" x="951.35" y="513.24"/><use href="#tr" x="963.81" y="496.6"/><use href="#tr" x="974.78" y="518.9"/><use href="#tr" x="953.96" y="504.55"/><use href="#tr" x="964.94" y="524.78"/><use href="#tr" x="973.11" y="521.74"/><use href="#tr" x="975.67" y="511.94"/><use href="#tr" x="972.08" y="507.47"/><use href="#tr" x="963.57" y="497.59"/><use href="#tr" x="967.97" y="513.34"/><use href="#tr" x="958.82" y="513.5"/><use href="#tr" x="969.21" y="503.61"/><use href="#tr" x="941.65" y="507.61"/><use href="#tr" x="950.61" y="506.88"/><use href="#tr" x="968.59" y="507.56"/><use href="#tr" x="979.04" y="512.35"/><use href="#tr" x="968.8" y="508.66"/><use href="#tr" x="979.24" y="516.9"/><use href="#tr" x="968.11" y="518.06"/><use href="#tr" x="991" y="533.91"/><use href="#tr" x="972.31" y="529.36"/><use href="#tr" x="987.2" y="501.99"/><use href="#tr" x="960.07" y="499.17"/><use href="#tr" x="991.05" y="514.1"/><use href="#tr" x="973.93" y="513.51"/><use href="#tr" x="973.27" y="518.43"/><use href="#tr" x="967.24" y="507.97"/><use href="#tr" x="971.09" y="526.6"/><use href="#tr" x="970.71" y="501.49"/><use href="#tr" x="984.34" y="523.08"/><use href="#tr" x="980.61" y="516.15"/><use href="#tr" x="970.67" y="517.27"/><use href="#tr" x="965.26" y="507"/><use href="#tr" x="961.08" y="507.02"/><use href="#tr" x="968.89" y="502.21"/><use href="#tr" x="988.08" y="505.88"/><use href="#tr" x="965.41" y="513"/><use href="#tr" x="950.06" y="511.18"/><use href="#tr" x="966.83" y="528.29"/><use href="#tr" x="957.17" y="500.77"/><use href="#tr" x="951.97" y="507.42"/><use href="#tr" x="961.69" y="519.62"/><use href="#tr" x="956.59" y="513.4"/><use href="#tr" x="967.68" y="515.41"/><use href="#tr" x="965.18" y="498.84"/><use href="#tr" x="955.28" y="513.13"/><use href="#tr" x="972.76" y="516.91"/><use href="#tr" x="963.16" y="508.26"/><use href="#tr" x="970.01" y="503.38"/><use href="#tr" x="984.77" y="517.48"/><use href="#tr" x="970.48" y="511.7"/><use href="#tr" x="983.03" y="502.95"/><use href="#tr" x="961.4" y="513.98"/><use href="#tr" x="975.01" y="511.15"/><use href="#tr" x="974.03" y="506.83"/><use href="#tr" x="982.9" y="519.21"/><use href="#tr" x="959.65" y="512.89"/><use href="#tr" x="977.1" y="506.05"/><use href="#tr" x="945.35" y="504.37"/><use href="#tr" x="963.41" y="496.48"/><use href="#tr" x="957.84" y="508.52"/><use href="#tr" x="976.2" y="504.27"/><use href="#tr" x="958.44" y="508.3"/><use href="#tr" x="976.86" y="507.36"/><use href="#tr" x="988.64" y="504.39"/><use href="#tr" x="957.57" y="502.44"/><use href="#tr" x="954.93" y="507.73"/><use href="#tr" x="983.75" y="531.27"/><use href="#tr" x="968.44" y="500.85"/><use href="#tr" x="967.31" y="516.64"/><use href="#tr" x="960.29" y="518.34"/><use href="#tr" x="966.89" y="510.37"/><use href="#tr" x="972.31" y="511.33"/><use href="#tr" x="963.34" y="489.59"/><use href="#tr" x="965.05" y="515.47"/><use href="#tr" x="959.35" y="497.25"/><use href="#tr" x="997.01" y="521.99"/><use href="#tr" x="984.71" y="519.31"/><use href="#tr" x="960.81" y="506.13"/><use href="#tr" x="947.37" y="513.39"/><use href="#tr" x="977.39" y="516.02"/><use href="#tr" x="980.4" y="503.3"/><use href="#tr" x="965.3" y="513.87"/><use href="#tr" x="975.19" y="501.63"/><use href="#tr" x="971.44" y="530.65"/><use href="#tr" x="976.08" y="508.53"/><use href="#tr" x="984.33" y="525.16"/><use href="#tr" x="986.41" y="509.93"/><use href="#tr" x="957.7" y="513.24"/><use href="#tr" x="973.95" y="501.91"/><use href="#tr" x="987.6" y="512.18"/><use href="#tr" x="958.27" y="505.94"/><use href="#tr" x="973.66" y="513.44"/><use href="#tr" x="971.32" y="519.27"/><use href="#tr" x="967.02" y="529.73"/><use href="#tr" x="961.3" y="504.45"/><use href="#tr" x="993.13" y="503.66"/><use href="#tr" x="958.8" y="504.65"/><use href="#tr" x="967.4" y="505.73"/><use href="#tr" x="963.51" y="501.77"/><use href="#tr" x="961.49" y="503.84"/><use href="#tr" x="976.42" y="513.98"/><use href="#tr" x="964.91" y="523.59"/><use href="#tr" x="978.95" y="496.02"/><use href="#tr" x="971.44" y="495.98"/><use href="#tr" x="990.67" y="517.85"/><use href="#tr" x="955.72" y="496.14"/><use href="#tr" x="988.17" y="514.95"/><use href="#tr" x="947.99" y="506.1"/><use href="#tr" x="950.16" y="502.95"/><use href="#tr" x="972.82" y="504.01"/><use href="#tr" x="968.51" y="515.44"/><use href="#tr" x="991.85" y="508.64"/><use href="#tr" x="944.68" y="497.53"/><use href="#tr" x="976.8" y="508.22"/><use href="#tr" x="954.05" y="508.35"/><use href="#tr" x="965.74" y="507.48"/><use href="#tr" x="971.8" y="514.52"/><use href="#tr" x="979.53" y="511.59"/><use href="#tr" x="968.29" y="518.71"/><use href="#tr" x="990.96" y="503.66"/><use href="#tr" x="948.56" y="518.54"/><use href="#tr" x="978.18" y="512.79"/><use href="#tr" x="971.04" y="517.25"/><use href="#tr" x="970.22" y="511.71"/><use href="#tr" x="967.46" y="511.2"/><use href="#tr" x="981.65" y="510.99"/><use href="#tr" x="970.98" y="510.08"/><use href="#tr" x="985.88" y="511.9"/><use href="#tr" x="984.05" y="502.09"/><use href="#tr" x="955.02" y="496.42"/><use href="#tr" x="968.86" y="506.44"/><use href="#tr" x="968.14" y="515.68"/><use href="#tr" x="953.5" y="524.18"/><use href="#tr" x="972.55" y="512.28"/><use href="#tr" x="959.8" y="528.77"/><use href="#tr" x="969.27" y="504.55"/><use href="#tr" x="947.12" y="491.95"/><use href="#tr" x="963.22" y="523.39"/><use href="#tr" x="966.1" y="504.34"/><use href="#tr" x="969.1" y="511.59"/><use href="#tr" x="987.9" y="493.74"/><use href="#tr" x="965.77" y="513.6"/><use href="#tr" x="953.43" y="506.63"/><use href="#tr" x="974.25" y="521.47"/><use href="#tr" x="978.77" y="503.79"/><use href="#tr" x="964.07" y="514.58"/><use href="#tr" x="962.42" y="504.73"/><use href="#tr" x="958.94" y="499.4"/><use href="#tr" x="973.28" y="523.83"/><use href="#tr" x="969.87" y="508.84"/><use href="#tr" x="964.07" y="499.98"/><use href="#tr" x="984.57" y="527.79"/><use href="#tr" x="970.3" y="519.29"/><use href="#tr" x="970.59" y="502.77"/><use href="#tr" x="969.43" y="510.59"/><use href="#tr" x="970.72" y="512.73"/><use href="#tr" x="955.17" y="505.69"/><use href="#tr" x="951.22" y="496.91"/><use href="#tr" x="934.83" y="514.05"/><use href="#tr" x="977" y="514.19"/><use href="#tr" x="985.46" y="519.34"/><use href="#tr" x="976.99" y="503.58"/><use href="#tr" x="975.57" y="511.66"/><use href="#tr" x="983.52" y="503.62"/><use href="#tr" x="989.75" y="519.1"/><use href="#tr" x="965.18" y="515.57"/><use href="#tr" x="971.5" y="498.12"/><use href="#tr" x="971.13" y="506.66"/><use href="#tr" x="984.82" y="519.06"/><use href="#tr" x="966.25" y="516.73"/><use href="#tr" x="967.07" y="509.41"/><use href="#tr" x="969.74" y="511.61"/><use href="#tr" x="963.77" y="516.52"/><use href="#tr" x="967.64" y="505.61"/><use href="#tr" x="970.61" y="503.35"/><use href="#tr" x="984.54" y="500.79"/><use href="#tr" x="981.74" y="504.85"/><use href="#tr" x="955.74" y="505.44"/><use href="#tr" x="972.55" y="511.53"/><use href="#tr" x="983.2" y="500.98"/><use href="#tr" x="983.06" y="504.88"/><use href="#tr" x="978.41" y="512.6"/><use href="#tr" x="975.3" y="514.36"/><use href="#tr" x="968.41" y="502.86"/><use href="#tr" x="994.22" y="521.54"/><use href="#tr" x="966.09" y="514.54"/><use href="#tr" x="960.62" y="510.46"/><use href="#tr" x="982.92" y="516.2"/><use href="#tr" x="978.75" y="502.24"/><use href="#tr" x="975.23" y="515.82"/><use href="#tr" x="964.1" y="494.34"/><use href="#tr" x="957.02" y="503.98"/><use href="#tr" x="972.2" y="502.43"/><use href="#tr" x="959.67" y="516.98"/><use href="#tr" x="955.69" y="500.13"/><use href="#tr" x="963.03" y="510.35"/><use href="#tr" x="976.61" y="504.16"/><use href="#tr" x="969.85" y="498.31"/><use href="#tr" x="977.82" y="502.53"/><use href="#tr" x="969.24" y="512.82"/><use href="#tr" x="969.88" y="493.7"/><use href="#tr" x="974.66" y="510.57"/><use href="#tr" x="967.08" y="497.91"/><use href="#tr" x="957.8" y="514.77"/><use href="#tr" x="941.14" y="496.4"/><use href="#tr" x="978.02" y="518.36"/><use href="#tr" x="958.38" y="506.46"/><use href="#tr" x="960.56" y="497.36"/><use href="#tr" x="974.89" y="514.62"/><use href="#tr" x="979.08" y="512.4"/><use href="#tr" x="961.44" y="493.92"/><use href="#tr" x="968.01" y="524.99"/><use href="#tr" x="947.31" y="506.86"/><use href="#tr" x="997.76" y="517.58"/><use href="#tr" x="991.81" y="502.29"/><use href="#tr" x="982.96" y="522.8"/><use href="#tr" x="979.52" y="511.04"/><use href="#tr" x="956.1" y="518.44"/><use href="#tr" x="993.73" y="505.86"/><use href="#tr" x="961.44" y="519.77"/><use href="#tr" x="977.56" y="515.99"/><use href="#tr" x="962.29" y="504.05"/><use href="#tr" x="956.52" y="508.76"/><use href="#tr" x="976.87" y="510.07"/><use href="#tr" x="968.23" y="512.18"/><use href="#tr" x="947.36" y="505.42"/><use href="#tr" x="975.5" y="518.61"/><use href="#tr" x="955.4" y="520.68"/><use href="#tr" x="975.31" y="502.97"/><use href="#tr" x="971.43" y="515.5"/><use href="#tr" x="969.3" y="514.69"/><use href="#tr" x="983.06" y="520.84"/><use href="#tr" x="971.17" y="507.08"/><use href="#tr" x="969.15" y="499"/><use href="#tr" x="976.8" y="503.66"/><use href="#tr" x="968.78" y="519.56"/><use href="#tr" x="981.98" y="515.4"/><use href="#tr" x="966.13" y="511.65"/><use href="#tr" x="974.85" y="513.69"/><use href="#tr" x="957.06" y="495.12"/><use href="#tr" x="984.74" y="511.9"/><use href="#tr" x="983.77" y="510.35"/><use href="#tr" x="962.91" y="514.3"/><use href="#tr" x="982.86" y="524.64"/><use href="#tr" x="943.24" y="501.57"/><use href="#tr" x="959.12" y="508.02"/><use href="#tr" x="982.08" y="529.53"/><use href="#tr" x="963.31" y="493.76"/><use href="#tr" x="960.36" y="517.4"/><use href="#tr" x="985.07" y="496.13"/><use href="#tr" x="962.15" y="500.64"/><use href="#tr" x="956.08" y="510.08"/><use href="#tr" x="975.45" y="497.4"/><use href="#tr" x="968.55" y="509.86"/><use href="#tr" x="951.48" y="507.06"/><use href="#tr" x="946.33" y="504.83"/><use href="#tr" x="963.97" y="501.81"/><use href="#tr" x="983.44" y="516.27"/><use href="#tr" x="971.3" y="503.73"/><use href="#tr" x="973.43" y="522.22"/>
</g>
<g stroke="#51127c" stroke-opacity="0.6">
<use href="#ci" x="1004.56" y="533.85"/><use href="#ci" x="1041.04" y="520.84"/><use href="#ci" x="996.25" y="506.9"/><use href="#ci" x="1015.46" y="533.11"/><use href="#ci" x="1017.8" y="523.17"/><use href="#ci" x="1020" y="537.67"/><use href="#ci" x="1011.26" y="524.49"/><use href="#ci" x="1007.01" y="520.83"/><use href="#ci" x="1004.72" y="533.59"/><use href="#ci" x="996.42" y="524.22"/><use href="#ci" x="1006.71" y="509.16"/><use href="#ci" x="1004.54" y="504.34"/><use href="#ci" x="1019.43" y="516.01"/><use href="#ci" x="1006.87" y="519.18"/><use href="#ci" x="1014.26" y="529.75"/><use href="#ci" x="984.68" y="514.96"/><use href="#ci" x="1002.59" y="527.83"/><use href="#ci" x="1006.83" y="531.78"/><use href="#ci" x="1005.35" y="534.48"/><use href="#ci" x="1011.32" y="531.49"/><use href="#ci" x="1032.28" y="526.41"/><use href="#ci" x="1027.59" y="515.08"/><use href="#ci" x="1002.17" y="515.87"/><use href="#ci" x="1019.28" y="526.09"/><use href="#ci" x="1011.54" y="525.45"/><use href="#ci" x="1014.07" y="532.95"/><use href="#ci" x="1030.07" y="510.87"/><use href="#ci" x="1009.85" y="525.71"/><use href="#ci" x="1018.84" y="504.93"/><use href="#ci" x="997.05" y="521.64"/><use href="#ci" x="1000.07" y="518.58"/><use href="#ci" x="1026.55" y="511.92"/><use href="#ci" x="1023.25" y="522.94"/><use href="#ci" x="1000.59" y="532.53"/><use href="#ci" x="1011.81" y="533.84"/><use href="#ci" x="996.09" y="503.44"/><use href="#ci" x="1005.1" y="521.36"/><use href="#ci" x="1015.16" y="500.55"/><use href="#ci" x="1008.53" y="533.55"/><use href="#ci" x="1009.17" y="514.06"/><use href="#ci" x="999.07" y="518.78"/><use href="#ci" x="1010.64" y="535.9"/><use href="#ci" x="1008.17" y="519.88"/><use href="#ci" x="1012.41" y="521.2"/><use href="#ci" x="1008.09" y="526.74"/><use href="#ci" x="991.38" y="527.76"/><use href="#ci" x="1007" y="504.69"/><use href="#ci" x="1008" y="523.59"/><use href="#ci" x="1001.78" y="518.51"/><use href="#ci" x="1006.77" y="498.3"/><use href="#ci" x="1027.28" y="524.24"/><use href="#ci" x="985.19" y="523.74"/><use href="#ci" x="1015.04" y="525.69"/><use href="#ci" x="1024.91" y="523.26"/><use href="#ci" x="1020.6" y="527.15"/><use href="#ci" x="1003.58" y="530"/><use href="#ci" x="1004.89" y="520.88"/><use href="#ci" x="1014.27" y="518.91"/><use href="#ci" x="1003.68" y="514.2"/><use href="#ci" x="1012.18" y="527.1"/><use href="#ci" x="1015.84" y="532.04"/><use href="#ci" x="1017.37" y="532.22"/><use href="#ci" x="1025.67" y="529.65"/><use href="#ci" x="1003.66" y="527.18"/><use href="#ci" x="1009.4" y="517.85"/><use href="#ci" x="1006.05" y="532.62"/><use href="#ci" x="994.92" y="514.72"/><use href="#ci" x="1009.31" y="521.91"/><use href="#ci" x="1011.55" y="527.76"/><use href="#ci" x="1012.91" y="504.97"/><use href="#ci" x="990.85" y="514.52"/><use href="#ci" x="1005.7" y="533.32"/><use href="#ci" x="997.97" y="534.52"/><use href="#ci" x="1001.37" y="524.6"/><use href="#ci" x="1023.08" y="510.66"/><use href="#ci" x="1010.53" y="524.22"/><use href="#ci" x="1013.58" y="522.4"/><use href="#ci" x="1029.92" y="516.85"/><use href="#ci" x="1011.77" y="508.75"/><use href="#ci" x="1032.68" y="525.54"/><use href="#ci" x="984.01" y="517.4"/><use href="#ci" x="1002.37" y="542.1"/><use href="#ci" x="991.42" y="530.76"/><use href="#ci" x="1018.91" y="520.82"/><use href="#ci" x="1021.27" y="513.84"/><use href="#ci" x="1003.72" y="509.13"/><use href="#ci" x="1026.99" y="532.77"/><use href="#ci" x="991.15" y="508.87"/><use href="#ci" x="1003.7" y="511.99"/><use href="#ci" x="1005.09" y="505.43"/><use href="#ci" x="990.91" y="524.27"/><use href="#ci" x="998.41" y="517.67"/><use href="#ci" x="984.68" y="524.88"/><use href="#ci" x="1012.56" y="517.61"/><use href="#ci" x="1010.87" y="530.17"/><use href="#ci" x="1003.72" y="519.88"/><use href="#ci" x="1013.09" y="504.18"/><use href="#ci" x="1029.01" y="513.6"/><use href="#ci" x="1033.28" y="516.08"/><use href="#ci" x="1022.62" y="530.48"/><use href="#ci" x="1018.39" y="506.57"/><use href="#ci" x="1021.68" y="539.46"/><use href="#ci" x="1000.89" y="512.13"/><use href="#ci" x="1005.2" y="516.49"/><use href="#ci" x="1032.94" y="511.41"/><use href="#ci" x="1004.15" y="533.79"/><use href="#ci" x="993.74" y="514.07"/><use href="#ci" x="1022.07" y="523.95"/><use href="#ci" x="1014.96" y="525.95"/><use href="#ci" x="1019.73" y="540.58"/><use href="#ci" x="1017.73" y="524.68"/><use href="#ci" x="996.2" y="520.98"/><use href="#ci" x="990.11" y="519.46"/><use href="#ci" x="1010.92" y="518.13"/><use href="#ci" x="1004.89" y="545.6"/><use href="#ci" x="1019.59" y="530.54"/><use href="#ci" x="1011.36" y="522.48"/><use href="#ci" x="1004.93" y="534.46"/><use href="#ci" x="1010.24" y="522.2"/><use href="#ci" x="1002.64" y="533.7"/><use href="#ci" x="999.91" y="533.16"/><use href="#ci" x="1004.64" y="527.2"/><use href="#ci" x="990.14" y="533.62"/><use href="#ci" x="1002.43" y="519.79"/><use href="#ci" x="1007.73" y="507.58"/><use href="#ci" x="1026.09" y="535.76"/><use href="#ci" x="996.78" y="520.58"/><use href="#ci" x="1007.84" y="522.24"/><use href="#ci" x="998.87" y="524.33"/><use href="#ci" x="1008.82" y="525.82"/><use href="#ci" x="1019.43" y="529.22"/><use href="#ci" x="1008.57" y="514.39"/><use href="#ci" x="1012.41" y="511.42"/><use href="#ci" x="1038.59" y="524.62"/><use href="#ci" x="1001.42" y="522.43"/><use href="#ci" x="988.89" y="514.18"/><use href="#ci" x="984.57" y="512.96"/><use href="#ci" x="1021.5" y="502.24"/><use href="#ci" x="1010.08" y="535.77"/><use href="#ci" x="995.46" y="533.27"/><use href="#ci" x="1001.45" y="518.11"/><use href="#ci" x="1023.32" y="521.13"/><use href="#ci" x="1027.63" y="534.07"/><use href="#ci" x="1024.09" y="538.52"/><use href="#ci" x="1034.22" y="518.18"/><use href="#ci" x="997.5" y="526.83"/><use href="#ci" x="1016.89" y="526.4"/><use href="#ci" x="1021" y="524.9"/><use href="#ci" x="1009.07" y="530.89"/><use href="#ci" x="1014.78" y="505.79"/><use href="#ci" x="1016.01" y="539.62"/><use href="#ci" x="1021.42" y="531.75"/><use href="#ci" x="1019.29" y="521.07"/><use href="#ci" x="996.9" y="514.74"/><use href="#ci" x="1014.54" y="514.9"/><use href="#ci" x="1015.73" y="530.43"/><use href="#ci" x="991.59" y="538.32"/><use href="#ci" x="1002.32" y="505.75"/><use href="#ci" x="1007.77" y="512.2"/><use href="#ci" x="1009.18" y="525.98"/><use href="#ci" x="1028.06" y="535.79"/><use href="#ci" x="979.14" y="529.34"/><use href="#ci" x="1016.09" y="521.52"/><use href="#ci" x="1017.41" y="533.4"/><use href="#ci" x="1008.5" y="530.57"/><use href="#ci" x="996.33" y="516.19"/><use href="#ci" x="1016.68" y="523.78"/><use href="#ci" x="1008.45" y="518.59"/><use href="#ci" x="1010.31" y="515.92"/><use href="#ci" x="988.83" y="519.35"/><use href="#ci" x="998.09" y="518.3"/><use href="#ci" x="1003.45" y="495.42"/><use href="#ci" x="1017.17" y="520.72"/><use href="#ci" x="1024.9" y="524.62"/><use href="#ci" x="1002.6" y="519.27"/><use href="#ci" x="1022.98" y="534.01"/><use href="#ci" x="1004.65" y="530.72"/><use href="#ci" x="990.4" y="504.89"/><use href="#ci" x="1017.9" y="524.65"/><use href="#ci" x="1007.41" y="527.76"/><use href="#ci" x="1022.89" y="542.67"/><use href="#ci" x="1045.55" y="525.85"/><use href="#ci" x="993.99" y="520.71"/><use href="#ci" x="1009.09" y="531.02"/><use href="#ci" x="996.84" y="532.02"/><use href="#ci" x="1000.7" y="517.03"/><use href="#ci" x="1029.33" y="512.01"/><use href="#ci" x="1009.73" y="532.35"/><use href="#ci" x="1011.74" y="539.61"/><use href="#ci" x="1013.95" y="542.49"/><use href="#ci" x="1026.1" y="509.58"/><use href="#ci" x="994.81" y="517.98"/><use href="#ci" x="1021.31" y="521.87"/><use href="#ci" x="1030.26" y="512.19"/><use href="#ci" x="1035.89" y="517.13"/><use href="#ci" x="1017.25" y="541.77"/><use href="#ci" x="1021.35" y="512.92"/><use href="#ci" x="992.93" y="520.59"/><use href="#ci" x="996.81" y="526.04"/><use href="#ci" x="999.98" y="516.69"/><use href="#ci" x="1015.91" y="513.54"/><use href="#ci" x="1045.33" y="528.99"/><use href="#ci" x="981.83" y="521.02"/><use href="#ci" x="987.86" y="534.64"/><use href="#ci" x="1014.03" y="526.09"/><use href="#ci" x="1009.89" y="517.23"/><use href="#ci" x="998.68" y="532.53"/><use href="#ci" x="994.77" y="528.4"/><use href="#ci" x="1029.73" y="515.38"/><use href="#ci" x="1016.45" y="539.07"/><use href="#ci" x="1019.61" y="530.16"/><use href="#ci" x="998.65" y="508.91"/><use href="#ci" x="1015.42" y="521.51"/><use href="#ci" x="1022.93" y="524.16"/><use href="#ci" x="1020.17" y="524.1"/><use href="#ci" x="1012.32" y="530.13"/><use href="#ci" x="1010.43" y="528.98"/><use href="#ci" x="973.35" y="511.88"/><use href="#ci" x="1014.22" y="505.67"/><use href="#ci" x="1022.06" y="520.45"/><use href="#ci" x="999.5" y="526.27"/><use href="#ci" x="997.23" y="517.43"/><use href="#ci" x="999.19" y="517.88"/><use href="#ci" x="980.78" y="526.46"/><use href="#ci" x="1015.27" y="512.46"/><use href="#ci" x="999.28" y="528.55"/><use href="#ci" x="988.39" y="517.22"/><use href="#ci" x="997.01" y="519.21"/><use href="#ci" x="999.48" y="515.61"/><use href="#ci" x="991.27" y="531.53"/><use href="#ci" x="1012.6" y="541.55"/><use href="#ci" x="1003.24" y="514.22"/><use href="#ci" x="1002.55" y="517.94"/><use href="#ci" x="1005.06" y="520.22"/><use href="#ci" x="1002.8" y="526.28"/><use href="#ci" x="1013.52" y="499.34"/><use href="#ci" x="1005.12" y="515.34"/><use href="#ci" x="983.58" y="538.72"/><use href="#ci" x="1008.83" y="530.9"/><use href="#ci" x="1011.61" y="519.97"/><use href="#ci" x="1019.64" y="516.32"/><use href="#ci" x="988.12" y="516.51"/><use href="#ci" x="1009.34" y="525.56"/><use href="#ci" x="1002.98" y="534.04"/><use href="#ci" x="1013.29" y="510.55"/><use href="#ci" x="1014.1" y="497.85"/><use href="#ci" x="1030.84" y="524.05"/><use href="#ci" x="1001.95" y="528.22"/><use href="#ci" x="1013.18" y="546.62"/><use href="#ci" x="1021.44" y="529.43"/><use href="#ci" x="993.3" y="523.72"/><use href="#ci" x="1013.22" y="530.43"/><use href="#ci" x="1009.57" y="515.35"/><use href="#ci" x="1012.48" y="528.63"/><use href="#ci" x="1027.91" y="532.93"/><use href="#ci" x="1000.81" y="525.35"/><use href="#ci" x="1016.68" y="523.17"/><use href="#ci" x="1021.83" y="530.49"/><use href="#ci" x="1006.36" y="522.84"/><use href="#ci" x="1006.19" y="514.31"/><use href="#ci" x="1026.23" y="534.62"/><use href="#ci" x="999.98" y="525.34"/><use href="#ci" x="1007.67" y="540.13"/><use href="#ci" x="1016.17" y="537.13"/><use href="#ci" x="1005.42" y="514.73"/><use href="#ci" x="1036.32" y="530.06"/><use href="#ci" x="1004.71" y="532.39"/><use href="#ci" x="1004.08" y="533.68"/><use href="#ci" x="1005.4" y="527.77"/><use href="#ci" x="1020.54" y="512.36"/><use href="#ci" x="1016.75" y="519.84"/><use href="#ci" x="1028.8" y="547.72"/><use href="#ci" x="989.43" y="526.3"/><use href="#ci" x="971.05" y="507.51"/><use href="#ci" x="1013.36" y="518.83"/><use href="#ci" x="1015.67" y="510.38"/><use href="#ci" x="996.68" y="527.99"/><use href="#ci" x="1007.12" y="521.15"/><use href="#ci" x="1011.6" y="530.99"/><use href="#ci" x="1010.99" y="517.49"/><use href="#ci" x="1001.96" y="524.75"/><use href="#ci" x="1010.28" y="506.39"/><use href="#ci" x="991.52" y="524.96"/><use href="#ci" x="989.35" y="516.21"/><use href="#ci" x="1010.16" y="508.23"/><use href="#ci" x="1007.25" y="511.59"/><use href="#ci" x="1016.41" y="532.05"/><use href="#ci" x="987.29" y="516.7"/><use href="#ci" x="1006.65" y="522.87"/><use href="#ci" x="1020.02" y="512.15"/><use href="#ci" x="987.76" y="515.72"/><use href="#ci" x="987.23" y="517.46"/><use href="#ci" x="973.89" y="519.95"/><use href="#ci" x="986.49" y="528.74"/><use href="#ci" x="992.9" y="523.02"/><use href="#ci" x="988.96" y="533.39"/><use href="#ci" x="1025.07" y="522.22"/><use href="#ci" x="989.76" y="522.97"/><use href="#ci" x="999.9" y="515.11"/><use href="#ci" x="1002.5" y="519.53"/><use href="#ci" x="998.94" y="525.79"/><use href="#ci" x="994.22" y="522.81"/><use href="#ci" x="1009.03" y="507.73"/><use href="#ci" x="1011.21" y="525.94"/><use href="#ci" x="1006.7" y="514.48"/><use href="#ci" x="1007.96" y="522.15"/><use href="#ci" x="1018.65" y="519.98"/><use href="#ci" x="1035.14" y="513.58"/><use href="#ci" x="1033.73" y="524"/><use href="#ci" x="996.54" y="519.24"/><use href="#ci" x="1020.43" y="516.24"/><use href="#ci" x="993.55" y="527.68"/><use href="#ci" x="1004.77" y="514.58"/><use href="#ci" x="986.29" y="513.27"/><use href="#ci" x="998.68" y="511.92"/><use href="#ci" x="989.62" y="544.9"/><use href="#ci" x="1027.43" y="521.31"/><use href="#ci" x="1019.88" y="517.83"/><use href="#ci" x="1014.21" y="538.92"/><use href="#ci" x="1021.53" y="516.11"/><use href="#ci" x="1028.19" y="523.62"/><use href="#ci" x="1018.19" y="510.12"/><use href="#ci" x="1006.63" y="531.16"/><use href="#ci" x="1033.12" y="524.7"/><use href="#ci" x="1007.02" y="529.23"/><use href="#ci" x="1010.62" y="532.64"/><use href="#ci" x="997.12" y="505.9"/><use href="#ci" x="1016.89" y="523.1"/><use href="#ci" x="1006.28" y="521.92"/><use href="#ci" x="981.89" y="519.24"/><use href="#ci" x="1004.43" y="509.6"/><use href="#ci" x="979.34" y="526.62"/><use href="#ci" x="1010.78" y="517.02"/><use href="#ci" x="1000.74" y="533.66"/><use href="#ci" x="1017.03" y="517.49"/><use href="#ci" x="1012.12" y="530.28"/><use href="#ci" x="1029.39" y="532.87"/><use href="#ci" x="1002.6" y="520.91"/><use href="#ci" x="1023.96" y="531.82"/><use href="#ci" x="1001.53" y="520.18"/>
</g>
</g>
<rect x="648.2" y="227.6" width="701.1" height="455.3" fill="none" stroke="#000" stroke-width="1.25"/>
<path d="M648.2 644.96h-7M706.62 682.9v7M648.2 550.1h-7M852.69 682.9v7M648.2 455.25h-7M998.75 682.9v7M648.2 360.4h-7M1144.81 682.9v7M648.2 265.54h-7M1290.88 682.9v7" stroke="#000" stroke-width="1.25"/>
<text x="590.89" y="652.56" style="font-size:22.25px;fill:#000" textLength="42.92" lengthAdjust="spacingAndGlyphs">−10</text>
<text x="684.99" y="713.84" style="font-size:22.25px;fill:#000" textLength="42.92" lengthAdjust="spacingAndGlyphs">−10</text>
<text x="604.63" y="557.7" style="font-size:22.25px;fill:#000" textLength="29.3" lengthAdjust="spacingAndGlyphs">−5</text>
<text x="837.91" y="713.84" style="font-size:22.25px;fill:#000" textLength="29.3" lengthAdjust="spacingAndGlyphs">−5</text>
<text x="621.41" y="462.85" style="font-size:22.25px;fill:#000" textLength="12.29" lengthAdjust="spacingAndGlyphs">0</text>
<text x="992.56" y="713.84" style="font-size:22.25px;fill:#000" textLength="12.29" lengthAdjust="spacingAndGlyphs">0</text>
<text x="622.08" y="368" style="font-size:22.25px;fill:#000" textLength="11.68" lengthAdjust="spacingAndGlyphs">5</text>
<text x="1138.99" y="713.84" style="font-size:22.25px;fill:#000" textLength="11.68" lengthAdjust="spacingAndGlyphs">5</text>
<text x="608.18" y="273.14" style="font-size:22.25px;fill:#000" textLength="25.58" lengthAdjust="spacingAndGlyphs">10</text>
<text x="1277.65" y="713.84" style="font-size:22.25px;fill:#000" textLength="25.58" lengthAdjust="spacingAndGlyphs">10</text>
<text x="706.42" y="322.8" style="font-size:26.81px;fill:#b5367a" textLength="139.62" lengthAdjust="spacingAndGlyphs">simulation,</text>
<text x="853.77" y="322.8" style="font-style:italic;font-size:26.81px;fill:#b5367a" textLength="15.22" lengthAdjust="spacingAndGlyphs">d</text>
<text x="875.56" y="322.8" style="font-size:26.81px;fill:#b5367a" textLength="19.04" lengthAdjust="spacingAndGlyphs">=</text>
<text x="901.23" y="322.8" style="font-size:26.81px;fill:#b5367a" textLength="14.23" lengthAdjust="spacingAndGlyphs">2</text>
<text x="1115.62" y="341.8" style="font-size:26.81px;fill:#b5367a" textLength="139.62" lengthAdjust="spacingAndGlyphs">simulation,</text>
<text x="1262.97" y="341.8" style="font-style:italic;font-size:26.81px;fill:#b5367a" textLength="15.22" lengthAdjust="spacingAndGlyphs">d</text>
<text x="1284.76" y="341.8" style="font-size:26.81px;fill:#b5367a" textLength="19.04" lengthAdjust="spacingAndGlyphs">=</text>
<text x="1310.68" y="341.8" style="font-size:26.81px;fill:#b5367a" textLength="14.22" lengthAdjust="spacingAndGlyphs">3</text>
<text x="735.06" y="455.6" style="font-size:26.81px;fill:#fb8761" textLength="31.46" lengthAdjust="spacingAndGlyphs">TI,</text>
<text x="774.83" y="455.6" style="font-style:italic;font-size:26.81px;fill:#fb8761" textLength="15.22" lengthAdjust="spacingAndGlyphs">d</text>
<text x="796.62" y="455.6" style="font-size:26.81px;fill:#fb8761" textLength="19.04" lengthAdjust="spacingAndGlyphs">=</text>
<text x="822.29" y="455.6" style="font-size:26.81px;fill:#fb8761" textLength="14.23" lengthAdjust="spacingAndGlyphs">2</text>
<text x="1202.46" y="455.2" style="font-size:26.81px;fill:#fb8761" textLength="31.46" lengthAdjust="spacingAndGlyphs">TI,</text>
<text x="1242.23" y="455.2" style="font-style:italic;font-size:26.81px;fill:#fb8761" textLength="15.22" lengthAdjust="spacingAndGlyphs">d</text>
<text x="1264.02" y="455.2" style="font-size:26.81px;fill:#fb8761" textLength="19.04" lengthAdjust="spacingAndGlyphs">=</text>
<text x="1289.95" y="455.2" style="font-size:26.81px;fill:#fb8761" textLength="14.22" lengthAdjust="spacingAndGlyphs">3</text>
<text x="823.18" y="549.5" style="font-size:26.81px;fill:#51127c" textLength="54.36" lengthAdjust="spacingAndGlyphs">IBM,</text>
<text x="885.82" y="549.5" style="font-style:italic;font-size:26.81px;fill:#51127c" textLength="15.22" lengthAdjust="spacingAndGlyphs">d</text>
<text x="907.61" y="549.5" style="font-size:26.81px;fill:#51127c" textLength="19.04" lengthAdjust="spacingAndGlyphs">=</text>
<text x="933.28" y="549.5" style="font-size:26.81px;fill:#51127c" textLength="14.23" lengthAdjust="spacingAndGlyphs">2</text>
<text x="1057.42" y="549.5" style="font-size:26.81px;fill:#51127c" textLength="54.36" lengthAdjust="spacingAndGlyphs">IBM,</text>
<text x="1120.06" y="549.5" style="font-style:italic;font-size:26.81px;fill:#51127c" textLength="15.22" lengthAdjust="spacingAndGlyphs">d</text>
<text x="1141.85" y="549.5" style="font-size:26.81px;fill:#51127c" textLength="19.04" lengthAdjust="spacingAndGlyphs">=</text>
<text x="1167.78" y="549.5" style="font-size:26.81px;fill:#51127c" textLength="14.22" lengthAdjust="spacingAndGlyphs">3</text>
<text x="979.74" y="748.7" style="font-style:italic;font-size:32.32px;fill:#000" textLength="39.72" lengthAdjust="spacingAndGlyphs">PC</text>
<text x="1020.27" y="753.79" style="font-size:22.62px;fill:#000" textLength="11.87" lengthAdjust="spacingAndGlyphs">1</text>
<g transform="translate(602.2 473.6) rotate(-90)">
<text x="-0.86" y="0" style="font-style:italic;font-size:32.32px;fill:#000" textLength="39.72" lengthAdjust="spacingAndGlyphs">PC</text>
<text x="39.45" y="5.09" style="font-size:22.62px;fill:#000" textLength="12" lengthAdjust="spacingAndGlyphs">2</text>
</g>
<text x="1203.3" y="763" style="font-size:47.3px;fill:#000" textLength="71.34" lengthAdjust="spacingAndGlyphs">(b)</text>
</g>
</svg>
</body></html>
